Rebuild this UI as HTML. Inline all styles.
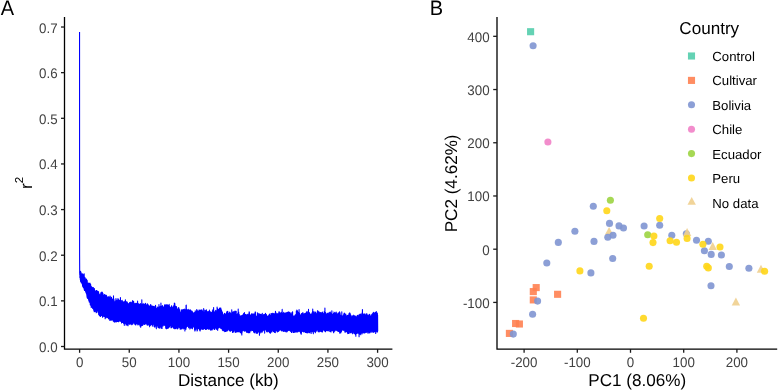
<!DOCTYPE html>
<html><head><meta charset="utf-8"><title>Figure</title>
<style>
html,body{margin:0;padding:0;background:#fff;}
body{width:778px;height:391px;overflow:hidden;}
svg{display:block;will-change:transform;}
text{font-family:"Liberation Sans",sans-serif;text-rendering:geometricPrecision;}
.tk{font-size:13.8px;fill:#414141;}
.lg{font-size:13.2px;fill:#000;}
.ti{font-size:17.1px;fill:#000;}
.pl{font-size:20px;fill:#000;}
</style></head><body>
<svg width="778" height="391" viewBox="0 0 778 391">
<rect width="778" height="391" fill="#fff"/>
<text transform="translate(0.8 15) scale(1 1.05)" class="pl">A</text>
<text transform="translate(429.7 15) scale(1 1.05)" class="pl">B</text>
<path d="M79.70 271.72 L80.07 271.04 L80.45 271.75 L80.82 272.50 L81.19 273.02 L81.56 274.47 L81.94 274.39 L82.31 274.32 L82.68 273.86 L83.05 274.07 L83.43 275.38 L83.80 276.06 L84.17 276.48 L84.54 277.09 L84.92 277.55 L85.29 278.30 L85.66 279.33 L86.04 279.81 L86.41 279.67 L86.78 280.31 L87.15 280.88 L87.53 282.60 L87.90 283.84 L88.27 283.99 L88.64 282.96 L89.02 283.14 L89.39 283.02 L89.76 283.07 L90.13 283.20 L90.51 285.14 L90.88 285.84 L91.25 286.04 L91.62 286.83 L92.00 287.80 L92.37 287.77 L92.74 287.81 L93.12 287.58 L93.49 286.69 L93.86 288.93 L94.23 288.61 L94.61 289.75 L94.98 290.87 L95.35 290.75 L95.72 290.99 L96.10 291.08 L96.47 291.27 L96.84 290.98 L97.21 291.99 L97.59 291.36 L97.96 292.13 L98.33 291.87 L98.71 291.90 L99.08 292.93 L99.45 294.19 L99.82 294.96 L100.20 294.61 L100.57 293.63 L100.94 293.03 L101.31 293.60 L101.69 292.49 L102.06 292.73 L102.43 292.35 L102.80 292.92 L103.18 293.24 L103.55 294.89 L103.92 296.33 L104.30 295.04 L104.67 293.86 L105.04 295.09 L105.41 295.01 L105.79 295.61 L106.16 294.27 L106.53 296.08 L106.90 296.36 L107.28 297.27 L107.65 296.87 L108.02 296.74 L108.39 297.35 L108.77 297.51 L109.14 297.19 L109.51 296.98 L109.89 296.17 L110.26 297.26 L110.63 298.10 L111.00 299.19 L111.38 298.81 L111.75 299.42 L112.12 300.01 L112.49 299.11 L112.87 299.18 L113.24 298.20 L113.61 297.78 L113.98 298.32 L114.36 299.35 L114.73 301.32 L115.10 301.41 L115.47 300.39 L115.85 299.45 L116.22 299.16 L116.59 299.90 L116.97 300.34 L117.34 300.16 L117.71 299.23 L118.08 298.83 L118.46 299.32 L118.83 300.42 L119.20 301.14 L119.57 299.90 L119.95 300.08 L120.32 299.85 L120.69 300.59 L121.06 301.34 L121.44 301.37 L121.81 301.16 L122.18 300.89 L122.56 301.12 L122.93 301.92 L123.30 302.10 L123.67 302.08 L124.05 302.50 L124.42 302.52 L124.79 301.85 L125.16 301.61 L125.54 302.17 L125.91 303.37 L126.28 303.01 L126.65 302.11 L127.03 301.77 L127.40 302.07 L127.77 302.95 L128.15 303.99 L128.52 304.26 L128.89 303.46 L129.26 303.25 L129.64 302.24 L130.01 302.51 L130.38 301.43 L130.75 302.00 L131.13 301.47 L131.50 302.85 L131.87 302.92 L132.24 302.45 L132.62 301.23 L132.99 301.62 L133.36 301.23 L133.74 302.32 L134.11 303.16 L134.48 303.96 L134.85 304.94 L135.23 304.04 L135.60 303.91 L135.97 303.40 L136.34 302.96 L136.72 302.74 L137.09 303.97 L137.46 303.64 L137.83 303.62 L138.21 303.40 L138.58 304.01 L138.95 303.93 L139.32 304.25 L139.70 304.36 L140.07 304.48 L140.44 303.85 L140.82 304.08 L141.19 303.87 L141.56 304.56 L141.93 304.05 L142.31 303.90 L142.68 303.30 L143.05 303.27 L143.42 303.44 L143.80 303.49 L144.17 303.00 L144.54 304.06 L144.91 303.89 L145.29 303.50 L145.66 303.23 L146.03 304.62 L146.41 305.93 L146.78 305.38 L147.15 305.38 L147.52 304.36 L147.90 304.87 L148.27 303.71 L148.64 304.92 L149.01 305.43 L149.39 305.96 L149.76 305.36 L150.13 304.32 L150.50 304.72 L150.88 304.45 L151.25 305.23 L151.62 306.40 L152.00 306.08 L152.37 306.01 L152.74 306.44 L153.11 306.77 L153.49 306.80 L153.86 305.78 L154.23 306.44 L154.60 306.24 L154.98 305.93 L155.35 305.63 L155.72 306.68 L156.09 307.65 L156.47 307.97 L156.84 308.31 L157.21 308.08 L157.58 307.11 L157.96 306.83 L158.33 306.81 L158.70 307.46 L159.08 308.04 L159.45 307.44 L159.82 307.25 L160.19 306.12 L160.57 305.74 L160.94 305.99 L161.31 306.68 L161.68 306.98 L162.06 306.68 L162.43 305.79 L162.80 307.09 L163.17 306.76 L163.55 306.40 L163.92 305.97 L164.29 304.52 L164.67 304.25 L165.04 304.72 L165.41 306.04 L165.78 306.57 L166.16 306.62 L166.53 305.72 L166.90 306.30 L167.27 305.26 L167.65 305.39 L168.02 305.60 L168.39 304.97 L168.76 305.03 L169.14 304.91 L169.51 306.55 L169.88 307.43 L170.26 307.22 L170.63 306.63 L171.00 306.35 L171.37 305.74 L171.75 305.50 L172.12 306.74 L172.49 307.04 L172.86 307.46 L173.24 307.88 L173.61 306.51 L173.98 304.38 L174.35 303.44 L174.73 303.99 L175.10 306.60 L175.47 306.43 L175.85 306.42 L176.22 306.95 L176.59 307.09 L176.96 307.25 L177.34 308.24 L177.71 309.87 L178.08 308.67 L178.45 307.56 L178.83 306.92 L179.20 308.68 L179.57 309.87 L179.94 310.57 L180.32 311.22 L180.69 312.10 L181.06 313.10 L181.43 312.91 L181.81 312.15 L182.18 310.45 L182.55 310.24 L182.93 309.49 L183.30 310.18 L183.67 309.88 L184.04 309.64 L184.42 309.64 L184.79 309.54 L185.16 310.97 L185.53 310.30 L185.91 309.04 L186.28 308.70 L186.65 309.91 L187.02 310.14 L187.40 310.05 L187.77 310.42 L188.14 309.49 L188.52 309.63 L188.89 310.15 L189.26 310.28 L189.63 310.37 L190.01 309.97 L190.38 309.94 L190.75 311.06 L191.12 312.01 L191.50 312.03 L191.87 312.00 L192.24 311.71 L192.61 312.46 L192.99 312.82 L193.36 312.87 L193.73 312.83 L194.11 313.02 L194.48 312.73 L194.85 312.74 L195.22 311.32 L195.60 311.30 L195.97 311.34 L196.34 311.08 L196.71 310.03 L197.09 310.24 L197.46 310.72 L197.83 311.24 L198.20 311.52 L198.58 311.61 L198.95 310.60 L199.32 310.94 L199.69 310.33 L200.07 310.93 L200.44 310.60 L200.81 310.16 L201.19 309.82 L201.56 311.11 L201.93 310.47 L202.30 311.21 L202.68 311.24 L203.05 311.16 L203.42 311.51 L203.79 311.91 L204.17 312.13 L204.54 311.53 L204.91 311.34 L205.28 311.50 L205.66 311.29 L206.03 311.25 L206.40 310.37 L206.78 311.47 L207.15 311.77 L207.52 311.73 L207.89 312.57 L208.27 312.32 L208.64 312.46 L209.01 311.99 L209.38 312.48 L209.76 312.83 L210.13 312.05 L210.50 313.00 L210.87 312.53 L211.25 312.86 L211.62 312.50 L211.99 311.63 L212.37 311.42 L212.74 310.61 L213.11 310.49 L213.48 310.68 L213.86 311.06 L214.23 311.75 L214.60 312.13 L214.97 311.28 L215.35 311.25 L215.72 310.23 L216.09 310.51 L216.46 311.02 L216.84 311.50 L217.21 310.69 L217.58 309.13 L217.96 309.21 L218.33 309.22 L218.70 309.15 L219.07 308.85 L219.45 309.07 L219.82 308.98 L220.19 308.54 L220.56 308.86 L220.94 308.71 L221.31 309.17 L221.68 310.55 L222.05 311.41 L222.43 312.04 L222.80 312.67 L223.17 313.35 L223.54 314.68 L223.92 315.23 L224.29 315.19 L224.66 313.73 L225.04 313.25 L225.41 314.01 L225.78 314.04 L226.15 313.12 L226.53 313.09 L226.90 311.51 L227.27 312.15 L227.64 312.39 L228.02 313.10 L228.39 313.10 L228.76 313.25 L229.13 313.03 L229.51 313.44 L229.88 313.99 L230.25 314.13 L230.63 313.83 L231.00 314.41 L231.37 313.28 L231.74 313.82 L232.12 313.11 L232.49 312.53 L232.86 312.05 L233.23 311.46 L233.61 312.57 L233.98 312.19 L234.35 310.94 L234.72 310.45 L235.10 311.38 L235.47 312.39 L235.84 313.82 L236.22 314.66 L236.59 314.97 L236.96 314.75 L237.33 314.08 L237.71 313.31 L238.08 312.53 L238.45 312.85 L238.82 312.67 L239.20 314.77 L239.57 315.22 L239.94 315.97 L240.31 314.98 L240.69 315.73 L241.06 315.31 L241.43 315.12 L241.81 315.40 L242.18 315.24 L242.55 315.06 L242.92 314.20 L243.30 313.02 L243.67 314.09 L244.04 314.14 L244.41 313.56 L244.79 313.41 L245.16 314.64 L245.53 315.23 L245.90 316.52 L246.28 316.57 L246.65 315.55 L247.02 315.70 L247.39 314.38 L247.77 315.28 L248.14 315.65 L248.51 314.77 L248.89 313.98 L249.26 312.48 L249.63 313.62 L250.00 314.29 L250.38 314.95 L250.75 314.49 L251.12 314.69 L251.49 313.86 L251.87 313.94 L252.24 313.51 L252.61 314.67 L252.98 314.28 L253.36 314.54 L253.73 313.84 L254.10 314.66 L254.48 313.74 L254.85 313.91 L255.22 312.80 L255.59 311.95 L255.97 313.96 L256.34 315.72 L256.71 316.00 L257.08 315.34 L257.46 314.02 L257.83 314.21 L258.20 314.95 L258.57 316.45 L258.95 316.06 L259.32 315.77 L259.69 314.96 L260.07 313.51 L260.44 314.27 L260.81 315.03 L261.18 314.83 L261.56 314.17 L261.93 314.10 L262.30 314.71 L262.67 315.76 L263.05 315.62 L263.42 314.77 L263.79 314.36 L264.16 313.54 L264.54 314.18 L264.91 313.93 L265.28 314.28 L265.65 314.81 L266.03 315.43 L266.40 314.49 L266.77 315.03 L267.15 315.68 L267.52 316.48 L267.89 316.41 L268.26 315.64 L268.64 315.44 L269.01 314.56 L269.38 314.62 L269.75 314.58 L270.13 315.03 L270.50 314.91 L270.87 314.49 L271.24 314.52 L271.62 313.65 L271.99 314.38 L272.36 314.83 L272.74 313.84 L273.11 313.46 L273.48 312.93 L273.85 313.10 L274.23 313.67 L274.60 313.07 L274.97 313.23 L275.34 312.72 L275.72 313.18 L276.09 313.29 L276.46 313.53 L276.83 313.72 L277.21 313.86 L277.58 313.76 L277.95 314.01 L278.33 313.67 L278.70 312.50 L279.07 312.10 L279.44 312.11 L279.82 312.86 L280.19 313.54 L280.56 314.13 L280.93 313.25 L281.31 313.32 L281.68 313.46 L282.05 312.55 L282.42 313.28 L282.80 312.65 L283.17 313.14 L283.54 312.95 L283.92 312.83 L284.29 313.36 L284.66 313.74 L285.03 313.35 L285.41 313.36 L285.78 314.05 L286.15 313.74 L286.52 314.09 L286.90 312.77 L287.27 312.42 L287.64 313.05 L288.01 312.62 L288.39 312.22 L288.76 312.35 L289.13 312.12 L289.50 311.88 L289.88 312.34 L290.25 312.82 L290.62 312.98 L291.00 314.12 L291.37 313.67 L291.74 312.44 L292.11 311.96 L292.49 312.64 L292.86 314.62 L293.23 315.25 L293.60 315.88 L293.98 316.20 L294.35 316.86 L294.72 315.98 L295.09 315.63 L295.47 314.85 L295.84 314.44 L296.21 312.89 L296.59 311.57 L296.96 310.43 L297.33 310.43 L297.70 311.65 L298.08 312.36 L298.45 312.39 L298.82 313.29 L299.19 312.34 L299.57 313.05 L299.94 312.86 L300.31 314.50 L300.68 314.53 L301.06 314.60 L301.43 314.50 L301.80 314.03 L302.18 313.46 L302.55 313.48 L302.92 312.54 L303.29 314.35 L303.67 313.94 L304.04 313.99 L304.41 313.13 L304.78 313.34 L305.16 313.44 L305.53 314.63 L305.90 313.50 L306.27 312.60 L306.65 311.48 L307.02 311.99 L307.39 312.57 L307.77 312.92 L308.14 312.33 L308.51 312.29 L308.88 312.52 L309.26 312.99 L309.63 313.55 L310.00 313.94 L310.37 313.97 L310.75 313.80 L311.12 313.76 L311.49 313.78 L311.86 313.58 L312.24 312.98 L312.61 312.56 L312.98 311.40 L313.35 312.01 L313.73 312.36 L314.10 312.38 L314.47 314.02 L314.85 313.92 L315.22 313.02 L315.59 313.42 L315.96 314.15 L316.34 314.30 L316.71 314.60 L317.08 312.18 L317.45 311.80 L317.83 310.77 L318.20 311.26 L318.57 311.53 L318.94 311.71 L319.32 311.78 L319.69 313.00 L320.06 313.45 L320.44 312.55 L320.81 312.05 L321.18 312.45 L321.55 312.61 L321.93 311.83 L322.30 312.76 L322.67 313.41 L323.04 314.09 L323.42 314.52 L323.79 313.69 L324.16 312.77 L324.53 312.79 L324.91 311.86 L325.28 312.44 L325.65 313.03 L326.03 313.82 L326.40 314.18 L326.77 313.92 L327.14 313.64 L327.52 313.44 L327.89 312.92 L328.26 313.90 L328.63 312.90 L329.01 313.74 L329.38 313.41 L329.75 312.97 L330.12 313.27 L330.50 312.70 L330.87 313.56 L331.24 313.17 L331.61 313.76 L331.99 313.19 L332.36 314.10 L332.73 314.11 L333.11 313.08 L333.48 312.88 L333.85 311.03 L334.22 311.83 L334.60 313.21 L334.97 313.18 L335.34 313.71 L335.71 312.36 L336.09 311.86 L336.46 312.31 L336.83 313.76 L337.20 314.67 L337.58 315.21 L337.95 314.10 L338.32 313.82 L338.70 312.96 L339.07 313.21 L339.44 313.31 L339.81 313.30 L340.19 314.33 L340.56 314.77 L340.93 315.78 L341.30 315.82 L341.68 315.30 L342.05 315.63 L342.42 315.66 L342.79 315.41 L343.17 315.12 L343.54 313.99 L343.91 314.19 L344.29 313.56 L344.66 313.12 L345.03 313.34 L345.40 314.67 L345.78 314.47 L346.15 315.44 L346.52 316.02 L346.89 315.16 L347.27 315.00 L347.64 314.99 L348.01 315.98 L348.38 315.47 L348.76 315.05 L349.13 313.80 L349.50 312.48 L349.88 313.36 L350.25 312.92 L350.62 313.77 L350.99 315.62 L351.37 316.19 L351.74 317.17 L352.11 316.20 L352.48 316.37 L352.86 316.30 L353.23 315.47 L353.60 314.55 L353.97 314.50 L354.35 316.45 L354.72 316.46 L355.09 316.38 L355.46 315.84 L355.84 316.74 L356.21 316.80 L356.58 316.42 L356.96 315.40 L357.33 315.73 L357.70 315.23 L358.07 315.83 L358.45 315.61 L358.82 316.22 L359.19 316.20 L359.56 314.64 L359.94 314.78 L360.31 314.38 L360.68 316.32 L361.05 315.61 L361.43 314.84 L361.80 314.42 L362.17 314.31 L362.55 313.72 L362.92 314.42 L363.29 314.07 L363.66 314.55 L364.04 313.48 L364.41 313.49 L364.78 313.80 L365.15 313.89 L365.53 314.81 L365.90 314.71 L366.27 314.80 L366.64 314.72 L367.02 314.05 L367.39 314.38 L367.76 314.89 L368.14 315.45 L368.51 316.05 L368.88 315.27 L369.25 314.45 L369.63 314.10 L370.00 315.55 L370.37 315.75 L370.74 316.62 L371.12 315.37 L371.49 315.48 L371.86 314.34 L372.23 313.56 L372.61 312.22 L372.98 313.11 L373.35 312.68 L373.73 313.11 L374.10 313.29 L374.47 313.65 L374.84 313.46 L375.22 313.35 L375.59 313.52 L375.96 313.35 L376.33 313.18 L376.71 312.33 L377.08 314.05 L377.45 314.22 L377.45 331.45 L377.08 331.00 L376.71 331.99 L376.33 331.54 L375.96 331.22 L375.59 330.38 L375.22 330.86 L374.84 330.63 L374.47 331.09 L374.10 331.57 L373.73 332.24 L373.35 332.17 L372.98 332.03 L372.61 331.41 L372.23 330.64 L371.86 331.15 L371.49 331.50 L371.12 331.31 L370.74 331.98 L370.37 332.48 L370.00 333.54 L369.63 332.33 L369.25 332.22 L368.88 331.91 L368.51 332.26 L368.14 332.90 L367.76 332.70 L367.39 331.45 L367.02 331.59 L366.64 332.27 L366.27 332.23 L365.90 332.11 L365.53 331.87 L365.15 331.44 L364.78 332.29 L364.41 332.19 L364.04 332.54 L363.66 332.34 L363.29 332.03 L362.92 332.40 L362.55 333.81 L362.17 334.68 L361.80 334.59 L361.43 333.58 L361.05 333.27 L360.68 333.55 L360.31 333.24 L359.94 333.04 L359.56 333.35 L359.19 333.42 L358.82 333.37 L358.45 332.96 L358.07 332.98 L357.70 332.65 L357.33 332.63 L356.96 332.88 L356.58 333.14 L356.21 333.17 L355.84 334.05 L355.46 334.15 L355.09 334.58 L354.72 334.12 L354.35 333.54 L353.97 332.75 L353.60 333.24 L353.23 332.62 L352.86 332.74 L352.48 333.25 L352.11 332.50 L351.74 332.88 L351.37 332.45 L350.99 332.94 L350.62 332.11 L350.25 331.60 L349.88 331.14 L349.50 332.24 L349.13 332.91 L348.76 333.42 L348.38 332.86 L348.01 333.08 L347.64 332.67 L347.27 332.29 L346.89 331.36 L346.52 330.93 L346.15 331.29 L345.78 331.95 L345.40 332.26 L345.03 332.09 L344.66 331.09 L344.29 330.36 L343.91 329.76 L343.54 330.30 L343.17 330.52 L342.79 330.24 L342.42 329.44 L342.05 328.53 L341.68 329.35 L341.30 331.58 L340.93 332.04 L340.56 332.33 L340.19 332.26 L339.81 332.37 L339.44 331.65 L339.07 331.61 L338.70 330.78 L338.32 331.33 L337.95 330.62 L337.58 331.59 L337.20 331.33 L336.83 331.05 L336.46 331.19 L336.09 330.15 L335.71 331.22 L335.34 329.78 L334.97 329.34 L334.60 329.97 L334.22 330.83 L333.85 332.21 L333.48 331.74 L333.11 331.45 L332.73 330.73 L332.36 330.30 L331.99 330.67 L331.61 331.15 L331.24 331.30 L330.87 331.10 L330.50 330.50 L330.12 330.59 L329.75 330.07 L329.38 330.55 L329.01 330.57 L328.63 330.29 L328.26 331.10 L327.89 330.18 L327.52 330.54 L327.14 329.73 L326.77 330.47 L326.40 330.82 L326.03 331.17 L325.65 331.40 L325.28 330.46 L324.91 330.71 L324.53 330.47 L324.16 330.19 L323.79 330.46 L323.42 330.17 L323.04 330.77 L322.67 331.17 L322.30 331.43 L321.93 331.47 L321.55 331.59 L321.18 330.89 L320.81 330.97 L320.44 331.09 L320.06 331.94 L319.69 331.85 L319.32 331.15 L318.94 331.31 L318.57 331.10 L318.20 331.51 L317.83 330.47 L317.45 330.11 L317.08 330.77 L316.71 330.62 L316.34 330.59 L315.96 330.57 L315.59 331.31 L315.22 331.95 L314.85 331.77 L314.47 330.98 L314.10 329.86 L313.73 330.33 L313.35 331.37 L312.98 331.48 L312.61 332.83 L312.24 332.10 L311.86 332.22 L311.49 332.54 L311.12 331.48 L310.75 331.85 L310.37 331.68 L310.00 332.33 L309.63 332.78 L309.26 332.05 L308.88 331.59 L308.51 330.90 L308.14 331.76 L307.77 332.46 L307.39 332.39 L307.02 331.82 L306.65 332.14 L306.27 332.71 L305.90 332.60 L305.53 331.80 L305.16 331.28 L304.78 330.95 L304.41 331.14 L304.04 331.24 L303.67 331.79 L303.29 331.56 L302.92 330.97 L302.55 330.48 L302.18 331.64 L301.80 332.74 L301.43 333.45 L301.06 334.53 L300.68 332.79 L300.31 332.10 L299.94 331.06 L299.57 331.96 L299.19 331.32 L298.82 331.18 L298.45 330.47 L298.08 330.85 L297.70 331.32 L297.33 331.05 L296.96 330.50 L296.59 331.20 L296.21 330.43 L295.84 331.19 L295.47 331.16 L295.09 331.49 L294.72 331.53 L294.35 331.58 L293.98 332.15 L293.60 332.58 L293.23 331.97 L292.86 331.25 L292.49 330.99 L292.11 330.81 L291.74 331.73 L291.37 332.25 L291.00 331.90 L290.62 331.12 L290.25 331.46 L289.88 330.75 L289.50 330.79 L289.13 330.29 L288.76 331.25 L288.39 330.72 L288.01 331.02 L287.64 331.75 L287.27 332.45 L286.90 331.86 L286.52 331.54 L286.15 331.75 L285.78 332.31 L285.41 331.88 L285.03 330.91 L284.66 330.83 L284.29 331.67 L283.92 331.06 L283.54 331.49 L283.17 331.02 L282.80 330.37 L282.42 330.17 L282.05 330.31 L281.68 330.46 L281.31 329.74 L280.93 329.41 L280.56 329.42 L280.19 329.12 L279.82 330.30 L279.44 329.76 L279.07 330.96 L278.70 331.57 L278.33 331.28 L277.95 331.68 L277.58 331.20 L277.21 331.81 L276.83 331.70 L276.46 331.33 L276.09 330.98 L275.72 331.19 L275.34 330.81 L274.97 331.40 L274.60 331.48 L274.23 331.56 L273.85 330.74 L273.48 330.97 L273.11 330.25 L272.74 331.05 L272.36 330.90 L271.99 331.19 L271.62 331.23 L271.24 332.16 L270.87 332.28 L270.50 332.36 L270.13 332.50 L269.75 331.96 L269.38 332.05 L269.01 330.59 L268.64 331.14 L268.26 330.43 L267.89 330.59 L267.52 330.60 L267.15 331.47 L266.77 330.87 L266.40 331.85 L266.03 331.31 L265.65 330.19 L265.28 329.86 L264.91 329.74 L264.54 330.33 L264.16 330.45 L263.79 330.57 L263.42 330.31 L263.05 330.43 L262.67 330.56 L262.30 330.69 L261.93 331.19 L261.56 331.61 L261.18 332.06 L260.81 332.04 L260.44 332.42 L260.07 332.63 L259.69 332.56 L259.32 332.56 L258.95 331.40 L258.57 331.71 L258.20 331.84 L257.83 332.27 L257.46 332.33 L257.08 332.98 L256.71 333.54 L256.34 333.75 L255.97 332.77 L255.59 332.86 L255.22 331.19 L254.85 331.62 L254.48 332.62 L254.10 333.46 L253.73 332.69 L253.36 332.37 L252.98 331.06 L252.61 330.92 L252.24 330.74 L251.87 330.47 L251.49 331.12 L251.12 331.87 L250.75 331.33 L250.38 331.50 L250.00 330.92 L249.63 331.02 L249.26 330.56 L248.89 331.04 L248.51 332.14 L248.14 331.88 L247.77 332.50 L247.39 331.77 L247.02 331.72 L246.65 332.03 L246.28 330.61 L245.90 330.60 L245.53 330.37 L245.16 330.14 L244.79 330.65 L244.41 331.36 L244.04 330.90 L243.67 330.26 L243.30 330.01 L242.92 331.48 L242.55 331.10 L242.18 331.78 L241.81 332.04 L241.43 332.12 L241.06 332.55 L240.69 332.28 L240.31 332.42 L239.94 331.16 L239.57 330.73 L239.20 331.12 L238.82 331.99 L238.45 332.24 L238.08 331.97 L237.71 331.19 L237.33 331.60 L236.96 331.60 L236.59 332.10 L236.22 332.22 L235.84 331.53 L235.47 331.57 L235.10 331.74 L234.72 331.21 L234.35 330.49 L233.98 331.07 L233.61 331.47 L233.23 331.87 L232.86 332.25 L232.49 331.79 L232.12 331.07 L231.74 330.07 L231.37 330.17 L231.00 330.56 L230.63 331.10 L230.25 331.37 L229.88 331.57 L229.51 331.57 L229.13 331.04 L228.76 330.59 L228.39 330.19 L228.02 329.59 L227.64 329.83 L227.27 329.75 L226.90 330.97 L226.53 331.37 L226.15 331.72 L225.78 331.61 L225.41 330.63 L225.04 330.57 L224.66 331.24 L224.29 331.28 L223.92 331.12 L223.54 330.40 L223.17 330.66 L222.80 329.84 L222.43 329.78 L222.05 329.38 L221.68 329.04 L221.31 329.16 L220.94 329.03 L220.56 328.93 L220.19 327.66 L219.82 327.57 L219.45 328.16 L219.07 328.07 L218.70 328.02 L218.33 328.75 L217.96 329.11 L217.58 330.18 L217.21 329.03 L216.84 329.04 L216.46 328.79 L216.09 328.15 L215.72 328.37 L215.35 329.15 L214.97 328.40 L214.60 329.14 L214.23 328.95 L213.86 328.72 L213.48 328.79 L213.11 328.67 L212.74 329.06 L212.37 328.93 L211.99 329.37 L211.62 328.87 L211.25 329.49 L210.87 329.45 L210.50 329.55 L210.13 329.23 L209.76 329.33 L209.38 329.48 L209.01 329.72 L208.64 329.51 L208.27 328.64 L207.89 328.09 L207.52 328.90 L207.15 328.50 L206.78 328.99 L206.40 329.16 L206.03 329.38 L205.66 329.13 L205.28 328.49 L204.91 328.03 L204.54 327.83 L204.17 327.57 L203.79 328.99 L203.42 329.71 L203.05 329.88 L202.68 329.18 L202.30 329.92 L201.93 329.38 L201.56 329.18 L201.19 329.28 L200.81 329.90 L200.44 330.49 L200.07 330.50 L199.69 329.88 L199.32 329.71 L198.95 329.33 L198.58 328.71 L198.20 328.11 L197.83 328.83 L197.46 330.05 L197.09 330.45 L196.71 328.88 L196.34 328.42 L195.97 328.21 L195.60 329.14 L195.22 330.59 L194.85 330.42 L194.48 328.92 L194.11 327.59 L193.73 326.16 L193.36 327.11 L192.99 327.23 L192.61 328.10 L192.24 329.10 L191.87 328.59 L191.50 328.66 L191.12 327.73 L190.75 327.79 L190.38 327.69 L190.01 327.12 L189.63 327.89 L189.26 327.61 L188.89 328.01 L188.52 326.85 L188.14 326.28 L187.77 325.36 L187.40 326.69 L187.02 326.50 L186.65 327.80 L186.28 327.74 L185.91 328.68 L185.53 327.99 L185.16 328.78 L184.79 328.73 L184.42 328.42 L184.04 328.00 L183.67 328.65 L183.30 328.42 L182.93 327.94 L182.55 327.85 L182.18 327.74 L181.81 327.99 L181.43 328.44 L181.06 328.40 L180.69 328.85 L180.32 328.44 L179.94 328.52 L179.57 326.73 L179.20 327.47 L178.83 326.69 L178.45 326.98 L178.08 327.39 L177.71 328.25 L177.34 328.18 L176.96 329.38 L176.59 328.44 L176.22 328.25 L175.85 328.02 L175.47 328.40 L175.10 329.00 L174.73 329.54 L174.35 328.72 L173.98 328.77 L173.61 328.73 L173.24 327.98 L172.86 327.45 L172.49 327.29 L172.12 327.21 L171.75 327.07 L171.37 327.25 L171.00 327.18 L170.63 325.96 L170.26 326.24 L169.88 326.04 L169.51 326.77 L169.14 327.07 L168.76 327.07 L168.39 327.82 L168.02 327.56 L167.65 327.69 L167.27 328.16 L166.90 328.75 L166.53 328.10 L166.16 328.62 L165.78 327.55 L165.41 326.19 L165.04 325.58 L164.67 325.06 L164.29 325.21 L163.92 324.68 L163.55 325.28 L163.17 325.01 L162.80 326.39 L162.43 325.52 L162.06 326.31 L161.68 327.13 L161.31 327.66 L160.94 326.51 L160.57 326.55 L160.19 326.93 L159.82 327.67 L159.45 328.07 L159.08 327.12 L158.70 327.11 L158.33 326.52 L157.96 327.06 L157.58 325.70 L157.21 325.92 L156.84 325.33 L156.47 325.69 L156.09 326.01 L155.72 326.56 L155.35 326.14 L154.98 326.48 L154.60 326.99 L154.23 326.65 L153.86 324.92 L153.49 324.31 L153.11 324.68 L152.74 324.75 L152.37 325.53 L152.00 324.88 L151.62 325.21 L151.25 324.91 L150.88 325.04 L150.50 324.99 L150.13 324.77 L149.76 324.62 L149.39 324.59 L149.01 324.87 L148.64 324.69 L148.27 324.80 L147.90 324.73 L147.52 324.74 L147.15 325.28 L146.78 324.88 L146.41 324.29 L146.03 323.60 L145.66 323.37 L145.29 323.92 L144.91 323.52 L144.54 324.05 L144.17 324.04 L143.80 323.81 L143.42 324.62 L143.05 325.18 L142.68 324.97 L142.31 325.22 L141.93 324.37 L141.56 325.96 L141.19 326.42 L140.82 327.47 L140.44 326.25 L140.07 325.50 L139.70 324.56 L139.32 324.99 L138.95 324.64 L138.58 324.89 L138.21 324.73 L137.83 324.50 L137.46 323.17 L137.09 323.25 L136.72 323.68 L136.34 323.57 L135.97 324.56 L135.60 324.89 L135.23 324.90 L134.85 323.98 L134.48 323.35 L134.11 322.72 L133.74 322.57 L133.36 323.41 L132.99 324.02 L132.62 323.77 L132.24 324.55 L131.87 324.54 L131.50 324.47 L131.13 323.47 L130.75 323.72 L130.38 323.07 L130.01 322.93 L129.64 323.01 L129.26 323.41 L128.89 323.90 L128.52 323.22 L128.15 323.88 L127.77 323.66 L127.40 323.44 L127.03 323.39 L126.65 323.80 L126.28 324.15 L125.91 324.36 L125.54 323.30 L125.16 323.53 L124.79 323.53 L124.42 324.16 L124.05 324.21 L123.67 324.00 L123.30 322.47 L122.93 321.78 L122.56 322.08 L122.18 321.98 L121.81 322.28 L121.44 321.98 L121.06 321.92 L120.69 322.05 L120.32 320.65 L119.95 320.69 L119.57 320.75 L119.20 321.87 L118.83 321.48 L118.46 320.85 L118.08 320.80 L117.71 321.38 L117.34 321.56 L116.97 321.21 L116.59 321.25 L116.22 321.36 L115.85 321.55 L115.47 321.47 L115.10 322.26 L114.73 321.15 L114.36 321.18 L113.98 320.22 L113.61 320.32 L113.24 320.16 L112.87 320.07 L112.49 320.85 L112.12 319.55 L111.75 319.82 L111.38 318.90 L111.00 319.92 L110.63 319.90 L110.26 319.41 L109.89 319.52 L109.51 319.36 L109.14 319.93 L108.77 319.35 L108.39 318.28 L108.02 318.40 L107.65 317.41 L107.28 317.78 L106.90 317.32 L106.53 317.38 L106.16 317.16 L105.79 316.88 L105.41 316.26 L105.04 316.49 L104.67 317.10 L104.30 316.20 L103.92 316.02 L103.55 316.19 L103.18 317.29 L102.80 317.90 L102.43 318.04 L102.06 316.95 L101.69 316.08 L101.31 315.20 L100.94 314.27 L100.57 315.81 L100.20 315.71 L99.82 315.72 L99.45 315.21 L99.08 314.24 L98.71 314.14 L98.33 312.88 L97.96 312.71 L97.59 311.62 L97.21 311.31 L96.84 312.06 L96.47 312.09 L96.10 311.81 L95.72 311.58 L95.35 311.67 L94.98 311.54 L94.61 311.70 L94.23 310.15 L93.86 310.07 L93.49 309.29 L93.12 308.80 L92.74 307.92 L92.37 307.23 L92.00 306.26 L91.62 305.75 L91.25 305.42 L90.88 306.29 L90.51 304.41 L90.13 304.04 L89.76 302.70 L89.39 302.12 L89.02 301.79 L88.64 300.73 L88.27 299.57 L87.90 298.90 L87.53 297.61 L87.15 296.83 L86.78 295.39 L86.41 294.17 L86.04 294.06 L85.66 292.96 L85.29 292.21 L84.92 290.57 L84.54 290.29 L84.17 289.69 L83.80 289.11 L83.43 288.02 L83.05 287.43 L82.68 286.39 L82.31 284.63 L81.94 283.43 L81.56 282.79 L81.19 282.37 L80.82 281.27 L80.45 279.86 L80.07 278.61 L79.70 277.67 Z" fill="#0000FF"/>
<path d="M79.55 32.0 L79.6 255 L79.7 273 L79.70 271.32 L79.82 274.58 L79.95 270.80 L80.07 277.77 L80.20 271.65 L80.32 279.57 L80.45 271.19 L80.57 281.22 L80.69 271.83 L80.82 281.62 L80.94 271.99 L81.07 279.07 L81.19 273.37 L81.31 282.65 L81.44 275.62 L81.56 279.46 L81.69 274.00 L81.81 279.87 L81.94 275.82 L82.06 283.50 L82.18 278.87 L82.31 284.28 L82.43 279.46 L82.56 286.09 L82.68 273.70 L82.81 282.35 L82.93 274.60 L83.05 281.75 L83.18 279.63 L83.30 287.45 L83.43 275.15 L83.55 283.01 L83.67 278.79 L83.80 285.17 L83.92 274.44 L84.05 284.13 L84.17 273.81 L84.30 289.84 L84.42 280.14 L84.54 290.37 L84.67 283.83 L84.79 290.36 L84.92 280.11 L85.04 286.76 L85.17 277.88 L85.29 285.97 L85.41 280.45 L85.54 288.71 L85.66 282.68 L85.79 290.97 L85.91 284.30 L86.04 287.62 L86.16 282.24 L86.28 291.82 L86.41 279.10 L86.53 290.51 L86.66 280.15 L86.78 288.76 L86.90 281.70 L87.03 297.00 L87.15 280.28 L87.28 297.63 L87.40 287.63 L87.53 297.37 L87.65 289.23 L87.77 298.42 L87.90 291.52 L88.02 294.83 L88.15 283.21 L88.27 294.89 L88.40 283.05 L88.52 297.55 L88.64 290.67 L88.77 299.96 L88.89 283.80 L89.02 292.09 L89.14 286.99 L89.26 302.04 L89.39 286.46 L89.51 298.88 L89.64 283.44 L89.76 300.96 L89.89 283.10 L90.01 298.79 L90.13 288.36 L90.26 304.74 L90.38 288.97 L90.51 300.12 L90.63 284.39 L90.76 304.79 L90.88 290.13 L91.00 305.65 L91.13 286.14 L91.25 307.50 L91.38 291.61 L91.50 299.64 L91.62 290.64 L91.75 306.43 L91.87 293.19 L92.00 300.33 L92.12 287.41 L92.25 306.46 L92.37 291.84 L92.49 308.19 L92.62 292.15 L92.74 300.03 L92.87 288.08 L92.99 300.87 L93.12 287.58 L93.24 308.71 L93.36 291.36 L93.49 307.69 L93.61 296.11 L93.74 310.12 L93.86 290.95 L93.99 307.80 L94.11 291.30 L94.23 311.77 L94.36 288.54 L94.48 301.71 L94.61 290.09 L94.73 303.84 L94.85 291.77 L94.98 311.53 L95.10 294.97 L95.23 307.58 L95.35 291.51 L95.48 309.43 L95.60 297.26 L95.72 309.12 L95.85 298.22 L95.97 310.50 L96.10 290.52 L96.22 312.65 L96.35 291.06 L96.47 306.16 L96.59 290.59 L96.72 311.40 L96.84 290.47 L96.97 312.29 L97.09 295.82 L97.21 306.26 L97.34 291.12 L97.46 309.36 L97.59 298.92 L97.71 301.19 L97.84 295.02 L97.96 309.85 L98.08 293.01 L98.21 309.91 L98.33 291.43 L98.46 310.68 L98.58 291.82 L98.71 314.62 L98.83 296.06 L98.95 311.65 L99.08 298.59 L99.20 314.06 L99.33 294.33 L99.45 315.77 L99.57 304.26 L99.70 314.48 L99.82 300.58 L99.95 311.16 L100.07 302.00 L100.20 312.98 L100.32 297.37 L100.44 316.51 L100.57 299.67 L100.69 315.86 L100.82 292.73 L100.94 304.69 L101.07 292.80 L101.19 315.53 L101.31 293.00 L101.44 315.33 L101.56 305.30 L101.69 314.40 L101.81 291.99 L101.94 307.65 L102.06 297.12 L102.18 315.54 L102.31 292.22 L102.43 312.87 L102.56 293.29 L102.68 316.44 L102.80 293.43 L102.93 305.79 L103.05 295.19 L103.18 308.25 L103.30 303.78 L103.43 308.17 L103.55 303.35 L103.67 315.94 L103.80 295.32 L103.92 308.50 L104.05 306.72 L104.17 316.53 L104.30 294.83 L104.42 308.14 L104.54 294.59 L104.67 314.18 L104.79 296.59 L104.92 311.25 L105.04 306.68 L105.16 318.77 L105.29 303.84 L105.41 313.68 L105.54 295.01 L105.66 313.47 L105.79 301.05 L105.91 316.39 L106.03 303.95 L106.16 317.75 L106.28 296.00 L106.41 308.52 L106.53 295.57 L106.66 310.98 L106.78 296.53 L106.90 314.93 L107.03 304.35 L107.15 310.44 L107.28 304.74 L107.40 317.48 L107.52 305.80 L107.65 316.93 L107.77 302.05 L107.90 315.97 L108.02 298.56 L108.15 308.16 L108.27 296.55 L108.39 318.73 L108.52 301.76 L108.64 318.60 L108.77 297.45 L108.89 317.74 L109.02 297.80 L109.14 310.06 L109.26 299.10 L109.39 313.12 L109.51 299.27 L109.64 313.49 L109.76 305.30 L109.89 320.49 L110.01 296.00 L110.13 319.79 L110.26 296.66 L110.38 315.28 L110.51 300.77 L110.63 316.06 L110.75 298.66 L110.88 313.76 L111.00 307.02 L111.13 320.21 L111.25 304.56 L111.38 319.43 L111.50 297.38 L111.62 315.18 L111.75 299.42 L111.87 319.84 L112.00 304.94 L112.12 319.28 L112.25 308.75 L112.37 317.14 L112.49 302.19 L112.62 317.22 L112.74 299.15 L112.87 319.94 L112.99 298.48 L113.11 316.30 L113.24 304.19 L113.36 321.15 L113.49 295.90 L113.61 308.24 L113.74 307.30 L113.86 318.23 L113.98 304.63 L114.11 321.63 L114.23 309.06 L114.36 320.70 L114.48 304.39 L114.61 310.83 L114.73 305.16 L114.85 322.24 L114.98 308.90 L115.10 315.64 L115.23 306.49 L115.35 321.59 L115.47 301.45 L115.60 321.48 L115.72 301.75 L115.85 316.07 L115.97 298.43 L116.10 318.29 L116.22 310.14 L116.34 319.53 L116.47 300.77 L116.59 321.85 L116.72 302.90 L116.84 319.81 L116.97 304.90 L117.09 321.56 L117.21 304.40 L117.34 311.55 L117.46 308.90 L117.59 312.86 L117.71 300.28 L117.84 321.57 L117.96 298.58 L118.08 316.56 L118.21 307.68 L118.33 316.96 L118.46 299.59 L118.58 321.68 L118.70 300.94 L118.83 319.79 L118.95 300.09 L119.08 315.90 L119.20 304.80 L119.33 320.53 L119.45 300.54 L119.57 313.33 L119.70 300.36 L119.82 320.97 L119.95 300.64 L120.07 319.00 L120.20 300.30 L120.32 321.18 L120.44 297.50 L120.57 320.39 L120.69 312.34 L120.82 318.94 L120.94 303.19 L121.06 316.58 L121.19 307.78 L121.31 316.25 L121.44 308.34 L121.56 323.04 L121.69 300.64 L121.81 313.50 L121.93 305.06 L122.06 321.60 L122.18 300.40 L122.31 321.20 L122.43 307.67 L122.56 322.57 L122.68 304.13 L122.80 314.15 L122.93 302.01 L123.05 322.41 L123.18 305.92 L123.30 317.87 L123.42 301.72 L123.55 318.02 L123.67 302.48 L123.80 323.44 L123.92 309.28 L124.05 322.10 L124.17 312.16 L124.29 325.35 L124.42 303.94 L124.54 314.29 L124.67 301.33 L124.79 323.56 L124.92 304.88 L125.04 320.81 L125.16 301.47 L125.29 323.05 L125.41 299.71 L125.54 320.66 L125.66 305.89 L125.79 321.78 L125.91 308.24 L126.03 324.92 L126.16 312.66 L126.28 319.49 L126.41 301.84 L126.53 324.55 L126.65 302.49 L126.78 323.85 L126.90 301.83 L127.03 325.09 L127.15 304.61 L127.28 319.27 L127.40 302.97 L127.52 323.90 L127.65 303.62 L127.77 319.77 L127.90 303.18 L128.02 325.68 L128.15 305.17 L128.27 324.27 L128.39 303.72 L128.52 323.02 L128.64 306.03 L128.77 323.81 L128.89 303.89 L129.01 313.56 L129.14 305.08 L129.26 318.34 L129.39 308.25 L129.51 319.06 L129.64 302.46 L129.76 324.37 L129.88 312.32 L130.01 314.27 L130.13 303.32 L130.26 323.40 L130.38 308.55 L130.51 320.83 L130.63 303.29 L130.75 323.84 L130.88 302.25 L131.00 323.59 L131.13 311.37 L131.25 312.94 L131.37 313.71 L131.50 323.54 L131.62 303.81 L131.75 324.71 L131.87 309.58 L132.00 321.22 L132.12 302.15 L132.24 322.53 L132.37 302.98 L132.49 319.55 L132.62 300.65 L132.74 324.08 L132.87 306.85 L132.99 323.81 L133.11 303.10 L133.24 322.73 L133.36 304.59 L133.49 312.92 L133.61 301.21 L133.74 312.11 L133.86 304.65 L133.98 320.40 L134.11 303.22 L134.23 317.86 L134.36 303.35 L134.48 323.16 L134.60 304.69 L134.73 321.62 L134.85 310.53 L134.98 324.50 L135.10 308.52 L135.23 319.84 L135.35 304.30 L135.47 322.28 L135.60 303.34 L135.72 324.90 L135.85 305.93 L135.97 322.48 L136.10 312.32 L136.22 323.56 L136.34 303.38 L136.47 318.45 L136.59 312.57 L136.72 317.68 L136.84 307.95 L136.96 324.01 L137.09 304.49 L137.21 323.86 L137.34 304.62 L137.46 323.50 L137.59 301.11 L137.71 323.80 L137.83 307.60 L137.96 324.93 L138.08 303.37 L138.21 318.18 L138.33 306.51 L138.46 323.41 L138.58 307.19 L138.70 322.02 L138.83 314.66 L138.95 313.46 L139.08 304.17 L139.20 320.61 L139.32 304.30 L139.45 316.85 L139.57 306.83 L139.70 319.98 L139.82 313.50 L139.95 325.99 L140.07 304.03 L140.19 317.34 L140.32 307.03 L140.44 323.61 L140.57 303.60 L140.69 327.14 L140.82 305.36 L140.94 324.86 L141.06 307.88 L141.19 325.60 L141.31 307.27 L141.44 323.38 L141.56 309.95 L141.68 322.24 L141.81 299.87 L141.93 320.97 L142.06 303.71 L142.18 325.38 L142.31 305.43 L142.43 324.60 L142.55 313.10 L142.68 325.28 L142.80 304.97 L142.93 323.73 L143.05 307.19 L143.18 320.06 L143.30 308.94 L143.42 323.97 L143.55 304.20 L143.67 313.79 L143.80 310.65 L143.92 321.47 L144.05 304.90 L144.17 321.08 L144.29 306.72 L144.42 324.55 L144.54 306.28 L144.67 315.41 L144.79 311.14 L144.91 313.45 L145.04 307.40 L145.16 317.25 L145.29 311.21 L145.41 324.02 L145.54 303.39 L145.66 322.08 L145.78 314.39 L145.91 320.47 L146.03 304.13 L146.16 319.26 L146.28 304.76 L146.41 322.93 L146.53 305.62 L146.65 321.51 L146.78 305.89 L146.90 322.82 L147.03 306.07 L147.15 324.97 L147.27 305.69 L147.40 323.39 L147.52 303.76 L147.65 325.12 L147.77 309.48 L147.90 322.89 L148.02 310.37 L148.14 322.97 L148.27 313.54 L148.39 316.10 L148.52 308.93 L148.64 316.52 L148.77 306.15 L148.89 325.04 L149.01 313.48 L149.14 325.20 L149.26 309.57 L149.39 324.94 L149.51 310.94 L149.63 326.71 L149.76 308.24 L149.88 324.76 L150.01 311.69 L150.13 325.08 L150.26 306.02 L150.38 325.57 L150.50 306.40 L150.63 313.82 L150.75 304.63 L150.88 314.98 L151.00 306.62 L151.13 322.40 L151.25 308.23 L151.37 321.68 L151.50 306.43 L151.62 322.04 L151.75 305.94 L151.87 324.41 L152.00 306.34 L152.12 321.94 L152.24 312.33 L152.37 326.11 L152.49 305.93 L152.62 323.88 L152.74 309.11 L152.86 322.79 L152.99 311.34 L153.11 315.28 L153.24 306.78 L153.36 317.50 L153.49 306.21 L153.61 323.98 L153.73 311.57 L153.86 325.34 L153.98 312.14 L154.11 326.49 L154.23 307.17 L154.36 325.31 L154.48 314.19 L154.60 325.55 L154.73 314.62 L154.85 327.25 L154.98 313.87 L155.10 319.61 L155.22 314.85 L155.35 320.78 L155.47 305.25 L155.60 325.52 L155.72 306.17 L155.85 324.20 L155.97 307.62 L156.09 326.16 L156.22 312.12 L156.34 328.68 L156.47 317.39 L156.59 326.03 L156.72 310.82 L156.84 324.92 L156.96 312.62 L157.09 322.30 L157.21 308.84 L157.34 320.90 L157.46 308.47 L157.58 325.43 L157.71 306.97 L157.83 326.83 L157.96 317.53 L158.08 327.55 L158.21 308.46 L158.33 319.51 L158.45 309.68 L158.58 317.80 L158.70 310.16 L158.83 327.84 L158.95 304.59 L159.08 325.80 L159.20 309.76 L159.32 322.71 L159.45 310.41 L159.57 319.33 L159.70 306.89 L159.82 328.27 L159.95 315.23 L160.07 324.17 L160.19 306.75 L160.32 324.25 L160.44 307.20 L160.57 320.66 L160.69 310.29 L160.81 326.31 L160.94 303.09 L161.06 327.47 L161.19 314.21 L161.31 328.11 L161.44 306.94 L161.56 322.51 L161.68 308.11 L161.81 324.56 L161.93 306.09 L162.06 328.50 L162.18 306.12 L162.31 324.48 L162.43 305.50 L162.55 325.51 L162.68 311.19 L162.80 319.46 L162.93 312.19 L163.05 326.01 L163.17 314.83 L163.30 323.49 L163.42 312.74 L163.55 318.04 L163.67 313.08 L163.80 314.51 L163.92 312.62 L164.04 315.27 L164.17 311.68 L164.29 325.50 L164.42 305.82 L164.54 322.32 L164.67 312.04 L164.79 323.36 L164.91 311.50 L165.04 314.46 L165.16 304.76 L165.29 323.81 L165.41 306.01 L165.53 320.40 L165.66 311.11 L165.78 327.94 L165.91 307.26 L166.03 328.54 L166.16 304.77 L166.28 322.47 L166.40 318.29 L166.53 328.68 L166.65 305.29 L166.78 322.50 L166.90 306.20 L167.03 317.36 L167.15 304.60 L167.27 322.91 L167.40 307.39 L167.52 327.69 L167.65 307.34 L167.77 328.57 L167.90 314.80 L168.02 326.44 L168.14 305.29 L168.27 327.98 L168.39 310.25 L168.52 317.57 L168.64 316.01 L168.76 327.37 L168.89 312.32 L169.01 327.13 L169.14 304.31 L169.26 319.45 L169.39 306.07 L169.51 326.63 L169.63 308.10 L169.76 319.27 L169.88 312.52 L170.01 321.06 L170.13 316.10 L170.26 323.27 L170.38 308.62 L170.50 321.93 L170.63 316.77 L170.75 325.52 L170.88 307.87 L171.00 327.77 L171.12 307.00 L171.25 318.23 L171.37 309.28 L171.50 327.20 L171.62 305.69 L171.75 327.61 L171.87 306.55 L171.99 324.97 L172.12 306.89 L172.24 323.45 L172.37 312.51 L172.49 319.00 L172.62 310.50 L172.74 316.68 L172.86 312.20 L172.99 322.72 L173.11 312.39 L173.24 325.96 L173.36 307.64 L173.48 328.03 L173.61 306.09 L173.73 316.66 L173.86 305.45 L173.98 320.62 L174.11 306.37 L174.23 327.98 L174.35 302.97 L174.48 325.05 L174.60 305.50 L174.73 326.23 L174.85 303.46 L174.98 326.63 L175.10 306.01 L175.22 328.79 L175.35 311.07 L175.47 317.04 L175.60 316.01 L175.72 328.35 L175.85 306.33 L175.97 328.36 L176.09 308.78 L176.22 327.26 L176.34 306.49 L176.47 316.72 L176.59 317.74 L176.71 320.24 L176.84 313.70 L176.96 323.70 L177.09 310.85 L177.21 325.68 L177.34 309.65 L177.46 328.75 L177.58 310.74 L177.71 328.83 L177.83 314.45 L177.96 328.61 L178.08 308.51 L178.21 324.06 L178.33 307.76 L178.45 326.07 L178.58 308.70 L178.70 322.54 L178.83 307.79 L178.95 327.26 L179.07 309.17 L179.20 319.42 L179.32 310.80 L179.45 324.16 L179.57 309.83 L179.70 327.75 L179.82 318.90 L179.94 327.41 L180.07 316.89 L180.19 329.19 L180.32 316.50 L180.44 324.10 L180.57 314.98 L180.69 328.83 L180.81 312.20 L180.94 321.74 L181.06 318.73 L181.19 328.84 L181.31 309.78 L181.43 328.93 L181.56 312.37 L181.68 323.17 L181.81 314.58 L181.93 326.18 L182.06 316.51 L182.18 328.29 L182.30 309.81 L182.43 323.54 L182.55 316.42 L182.68 325.32 L182.80 315.17 L182.93 319.72 L183.05 313.81 L183.17 329.00 L183.30 309.58 L183.42 324.08 L183.55 314.77 L183.67 327.80 L183.80 314.87 L183.92 326.96 L184.04 319.45 L184.17 319.09 L184.29 308.93 L184.42 328.47 L184.54 317.92 L184.66 323.32 L184.79 309.80 L184.91 331.07 L185.04 314.80 L185.16 323.77 L185.29 310.71 L185.41 327.68 L185.53 310.66 L185.66 325.51 L185.78 309.32 L185.91 329.22 L186.03 305.41 L186.16 326.92 L186.28 305.15 L186.40 322.32 L186.53 315.15 L186.65 326.44 L186.78 318.06 L186.90 322.09 L187.02 309.82 L187.15 322.16 L187.27 309.53 L187.40 326.36 L187.52 310.66 L187.65 319.22 L187.77 311.57 L187.89 318.30 L188.02 310.99 L188.14 317.48 L188.27 313.77 L188.39 322.48 L188.52 319.01 L188.64 327.68 L188.76 309.25 L188.89 326.57 L189.01 311.74 L189.14 322.63 L189.26 310.34 L189.38 322.55 L189.51 315.50 L189.63 325.03 L189.76 317.29 L189.88 329.06 L190.01 310.21 L190.13 326.68 L190.25 309.83 L190.38 328.20 L190.50 309.98 L190.63 323.68 L190.75 312.19 L190.88 323.94 L191.00 315.91 L191.12 326.83 L191.25 311.42 L191.37 327.24 L191.50 314.09 L191.62 324.16 L191.75 310.82 L191.87 328.05 L191.99 318.17 L192.12 327.07 L192.24 311.25 L192.37 328.65 L192.49 312.69 L192.61 324.82 L192.74 312.33 L192.86 323.84 L192.99 312.52 L193.11 321.94 L193.24 316.42 L193.36 324.08 L193.48 316.38 L193.61 326.78 L193.73 317.12 L193.86 327.22 L193.98 314.10 L194.11 322.99 L194.23 315.38 L194.35 326.78 L194.48 312.46 L194.60 329.44 L194.73 314.48 L194.85 331.01 L194.97 312.60 L195.10 330.85 L195.22 310.73 L195.35 323.59 L195.47 312.56 L195.60 323.23 L195.72 314.82 L195.84 329.19 L195.97 315.06 L196.09 324.81 L196.22 316.75 L196.34 319.44 L196.47 312.75 L196.59 326.63 L196.71 309.46 L196.84 327.17 L196.96 310.63 L197.09 330.98 L197.21 310.00 L197.33 330.47 L197.46 311.86 L197.58 327.36 L197.71 319.76 L197.83 325.64 L197.96 313.78 L198.08 323.20 L198.20 319.64 L198.33 327.74 L198.45 311.36 L198.58 328.76 L198.70 313.42 L198.83 326.27 L198.95 310.01 L199.07 324.24 L199.20 310.19 L199.32 325.05 L199.45 310.14 L199.57 329.82 L199.69 317.69 L199.82 330.59 L199.94 311.10 L200.07 330.94 L200.19 315.40 L200.32 324.88 L200.44 310.28 L200.56 328.05 L200.69 310.10 L200.81 327.74 L200.94 317.29 L201.06 321.87 L201.19 309.94 L201.31 322.98 L201.43 320.62 L201.56 326.64 L201.68 319.76 L201.81 326.63 L201.93 309.88 L202.06 329.26 L202.18 310.46 L202.30 327.54 L202.43 310.72 L202.55 322.82 L202.68 319.45 L202.80 323.65 L202.92 320.72 L203.05 324.65 L203.17 317.71 L203.30 328.90 L203.42 314.81 L203.55 320.11 L203.67 308.67 L203.79 320.33 L203.92 309.43 L204.04 328.76 L204.17 312.91 L204.29 328.19 L204.42 313.03 L204.54 328.31 L204.66 313.26 L204.79 322.10 L204.91 313.11 L205.04 328.59 L205.16 310.21 L205.28 327.58 L205.41 317.32 L205.53 329.37 L205.66 311.74 L205.78 329.09 L205.91 312.55 L206.03 328.75 L206.15 310.85 L206.28 329.07 L206.40 309.91 L206.53 329.23 L206.65 310.94 L206.78 326.54 L206.90 311.52 L207.02 328.05 L207.15 311.93 L207.27 328.54 L207.40 312.80 L207.52 322.75 L207.64 311.84 L207.77 321.11 L207.89 318.48 L208.02 328.20 L208.14 313.12 L208.27 329.21 L208.39 311.64 L208.51 325.54 L208.64 311.86 L208.76 322.36 L208.89 319.70 L209.01 326.48 L209.14 311.68 L209.26 327.89 L209.38 310.01 L209.51 320.84 L209.63 317.67 L209.76 327.87 L209.88 312.21 L210.01 328.77 L210.13 311.81 L210.25 329.56 L210.38 315.66 L210.50 326.97 L210.63 312.09 L210.75 330.14 L210.87 313.91 L211.00 324.43 L211.12 316.30 L211.25 329.51 L211.37 312.96 L211.50 322.24 L211.62 312.58 L211.74 324.27 L211.87 317.43 L211.99 329.96 L212.12 313.45 L212.24 325.03 L212.37 310.82 L212.49 323.56 L212.61 312.88 L212.74 329.01 L212.86 309.70 L212.99 329.11 L213.11 310.63 L213.23 319.72 L213.36 309.94 L213.48 327.75 L213.61 307.53 L213.73 322.21 L213.86 311.20 L213.98 321.11 L214.10 312.13 L214.23 325.04 L214.35 314.25 L214.48 329.51 L214.60 320.48 L214.73 323.22 L214.85 313.96 L214.97 322.57 L215.10 312.27 L215.22 326.01 L215.35 310.79 L215.47 325.68 L215.59 313.55 L215.72 322.11 L215.84 310.23 L215.97 326.51 L216.09 317.35 L216.22 329.12 L216.34 316.43 L216.46 320.16 L216.59 314.28 L216.71 325.25 L216.84 317.56 L216.96 329.11 L217.09 307.06 L217.21 322.74 L217.33 319.48 L217.46 320.42 L217.58 319.63 L217.71 330.36 L217.83 308.73 L217.96 328.32 L218.08 315.00 L218.20 318.14 L218.33 319.11 L218.45 327.22 L218.58 312.14 L218.70 321.04 L218.82 309.50 L218.95 324.11 L219.07 312.48 L219.20 321.35 L219.32 309.97 L219.45 321.02 L219.57 308.07 L219.69 326.86 L219.82 311.10 L219.94 318.79 L220.07 311.57 L220.19 327.82 L220.32 308.14 L220.44 327.69 L220.56 309.81 L220.69 324.97 L220.81 308.09 L220.94 319.82 L221.06 320.02 L221.18 327.80 L221.31 309.93 L221.43 324.39 L221.56 310.51 L221.68 326.98 L221.81 316.22 L221.93 325.45 L222.05 319.95 L222.18 328.88 L222.30 311.99 L222.43 330.30 L222.55 316.03 L222.68 329.69 L222.80 315.22 L222.92 329.16 L223.05 315.18 L223.17 330.64 L223.30 318.52 L223.42 328.87 L223.54 314.97 L223.67 330.60 L223.79 317.52 L223.92 326.17 L224.04 314.32 L224.17 330.17 L224.29 318.96 L224.41 329.97 L224.54 313.23 L224.66 331.60 L224.79 319.49 L224.91 331.24 L225.04 317.49 L225.16 331.44 L225.28 317.34 L225.41 329.74 L225.53 314.71 L225.66 331.37 L225.78 316.49 L225.91 328.55 L226.03 313.60 L226.15 330.59 L226.28 319.87 L226.40 330.91 L226.53 312.58 L226.65 326.92 L226.77 315.21 L226.90 330.62 L227.02 311.54 L227.15 329.21 L227.27 311.55 L227.40 330.83 L227.52 312.66 L227.64 325.50 L227.77 311.19 L227.89 330.03 L228.02 313.97 L228.14 327.96 L228.27 315.16 L228.39 326.22 L228.51 317.79 L228.64 325.96 L228.76 316.95 L228.89 327.74 L229.01 314.92 L229.13 328.12 L229.26 312.52 L229.38 324.79 L229.51 318.13 L229.63 329.21 L229.76 311.93 L229.88 330.44 L230.00 322.16 L230.13 322.86 L230.25 319.43 L230.38 328.51 L230.50 312.94 L230.63 331.28 L230.75 321.18 L230.87 330.74 L231.00 313.87 L231.12 330.46 L231.25 316.00 L231.37 330.51 L231.49 316.12 L231.62 329.79 L231.74 309.71 L231.87 330.22 L231.99 315.84 L232.12 328.40 L232.24 312.25 L232.36 324.11 L232.49 311.94 L232.61 332.44 L232.74 318.87 L232.86 330.75 L232.99 314.19 L233.11 324.32 L233.23 312.62 L233.36 321.37 L233.48 314.00 L233.61 331.95 L233.73 311.65 L233.86 322.99 L233.98 318.03 L234.10 322.40 L234.23 314.09 L234.35 324.20 L234.48 320.19 L234.60 328.13 L234.72 316.23 L234.85 326.24 L234.97 319.97 L235.10 332.10 L235.22 311.14 L235.35 331.53 L235.47 318.96 L235.59 332.33 L235.72 312.48 L235.84 325.22 L235.97 317.62 L236.09 331.95 L236.22 311.41 L236.34 329.47 L236.46 314.82 L236.59 330.85 L236.71 319.23 L236.84 329.93 L236.96 316.89 L237.08 332.03 L237.21 314.31 L237.33 328.59 L237.46 320.91 L237.58 331.40 L237.71 319.79 L237.83 326.44 L237.95 312.97 L238.08 329.50 L238.20 308.97 L238.33 331.30 L238.45 312.25 L238.58 321.80 L238.70 311.99 L238.82 329.17 L238.95 314.05 L239.07 331.90 L239.20 314.35 L239.32 331.18 L239.44 321.64 L239.57 325.89 L239.69 320.07 L239.82 329.73 L239.94 322.97 L240.07 323.54 L240.19 322.76 L240.31 332.34 L240.44 320.55 L240.56 325.42 L240.69 316.58 L240.81 330.84 L240.94 316.27 L241.06 333.11 L241.18 320.30 L241.31 327.37 L241.43 316.48 L241.56 332.51 L241.68 316.18 L241.81 334.88 L241.93 320.43 L242.05 332.51 L242.18 315.53 L242.30 329.39 L242.43 315.22 L242.55 325.22 L242.67 320.85 L242.80 326.63 L242.92 320.39 L243.05 328.03 L243.17 314.87 L243.30 330.15 L243.42 319.85 L243.54 325.94 L243.67 313.54 L243.79 330.47 L243.92 313.41 L244.04 327.86 L244.17 315.14 L244.29 331.28 L244.41 312.48 L244.54 325.36 L244.66 313.92 L244.79 327.23 L244.91 314.66 L245.03 330.64 L245.16 322.63 L245.28 327.98 L245.41 315.14 L245.53 330.95 L245.66 315.64 L245.78 322.96 L245.90 314.66 L246.03 331.01 L246.15 316.34 L246.28 330.74 L246.40 315.86 L246.53 332.14 L246.65 315.01 L246.77 326.48 L246.90 323.11 L247.02 332.31 L247.15 315.56 L247.27 323.26 L247.39 314.37 L247.52 326.05 L247.64 318.32 L247.77 331.63 L247.89 315.25 L248.02 332.56 L248.14 318.76 L248.26 332.75 L248.39 316.89 L248.51 332.68 L248.64 314.16 L248.76 332.54 L248.89 313.43 L249.01 321.41 L249.13 311.83 L249.26 321.10 L249.38 312.13 L249.51 331.26 L249.63 321.37 L249.76 332.81 L249.88 321.11 L250.00 328.13 L250.13 322.29 L250.25 330.67 L250.38 322.63 L250.50 325.54 L250.62 319.50 L250.75 326.95 L250.87 321.40 L251.00 330.12 L251.12 314.72 L251.25 328.42 L251.37 314.04 L251.49 325.70 L251.62 316.91 L251.74 323.17 L251.87 313.78 L251.99 327.89 L252.12 317.54 L252.24 324.56 L252.36 321.86 L252.49 330.37 L252.61 321.13 L252.74 328.94 L252.86 314.27 L252.98 328.04 L253.11 313.70 L253.23 329.61 L253.36 320.82 L253.48 328.64 L253.61 321.06 L253.73 331.67 L253.85 323.82 L253.98 325.86 L254.10 314.08 L254.23 327.25 L254.35 316.44 L254.48 332.67 L254.60 319.22 L254.72 329.27 L254.85 313.66 L254.97 331.57 L255.10 311.94 L255.22 329.61 L255.34 316.29 L255.47 322.09 L255.59 312.01 L255.72 325.59 L255.84 319.07 L255.97 333.02 L256.09 316.58 L256.21 330.62 L256.34 320.27 L256.46 329.00 L256.59 317.19 L256.71 327.69 L256.84 317.32 L256.96 332.71 L257.08 318.68 L257.21 333.38 L257.33 316.36 L257.46 328.72 L257.58 312.83 L257.71 322.73 L257.83 322.31 L257.95 332.52 L258.08 314.68 L258.20 331.56 L258.33 315.54 L258.45 327.89 L258.57 316.62 L258.70 329.97 L258.82 313.58 L258.95 331.59 L259.07 315.65 L259.20 327.23 L259.32 321.77 L259.44 335.16 L259.57 320.90 L259.69 324.73 L259.82 313.97 L259.94 333.31 L260.07 314.28 L260.19 327.00 L260.31 314.87 L260.44 329.54 L260.56 315.48 L260.69 332.01 L260.81 314.46 L260.93 331.12 L261.06 319.81 L261.18 327.79 L261.31 318.48 L261.43 331.17 L261.56 319.10 L261.68 324.05 L261.80 314.46 L261.93 332.61 L262.05 314.00 L262.18 323.97 L262.30 313.21 L262.43 327.76 L262.55 317.16 L262.67 331.16 L262.80 315.63 L262.92 330.82 L263.05 315.70 L263.17 328.02 L263.29 316.72 L263.42 330.31 L263.54 315.16 L263.67 328.93 L263.79 314.44 L263.92 324.29 L264.04 317.01 L264.16 321.87 L264.29 319.20 L264.41 321.44 L264.54 315.61 L264.66 333.12 L264.79 314.79 L264.91 326.20 L265.03 314.56 L265.16 325.23 L265.28 314.34 L265.41 324.65 L265.53 313.40 L265.65 323.75 L265.78 314.89 L265.90 329.77 L266.03 315.02 L266.15 329.83 L266.28 314.64 L266.40 330.44 L266.52 314.72 L266.65 331.44 L266.77 316.53 L266.90 324.26 L267.02 316.14 L267.15 332.07 L267.27 322.18 L267.39 331.37 L267.52 319.08 L267.64 325.73 L267.77 317.87 L267.89 328.38 L268.02 316.02 L268.14 331.01 L268.26 318.59 L268.39 330.56 L268.51 319.32 L268.64 331.46 L268.76 323.12 L268.88 328.22 L269.01 314.90 L269.13 331.68 L269.26 320.72 L269.38 332.32 L269.51 314.16 L269.63 332.41 L269.75 322.93 L269.88 331.86 L270.00 317.22 L270.13 333.03 L270.25 324.68 L270.38 333.24 L270.50 317.58 L270.62 332.53 L270.75 323.66 L270.87 330.90 L271.00 313.65 L271.12 322.90 L271.24 315.02 L271.37 330.76 L271.49 320.39 L271.62 331.69 L271.74 313.61 L271.87 331.96 L271.99 314.24 L272.11 325.86 L272.24 316.36 L272.36 325.45 L272.49 313.86 L272.61 322.66 L272.74 313.24 L272.86 325.81 L272.98 313.23 L273.11 325.07 L273.23 318.24 L273.36 331.44 L273.48 316.71 L273.60 325.28 L273.73 318.65 L273.85 327.00 L273.98 314.98 L274.10 328.09 L274.23 316.50 L274.35 332.35 L274.47 319.83 L274.60 331.23 L274.72 315.22 L274.85 327.12 L274.97 319.95 L275.10 330.92 L275.22 312.99 L275.34 332.58 L275.47 311.41 L275.59 324.01 L275.72 315.28 L275.84 321.91 L275.97 319.69 L276.09 323.26 L276.21 313.07 L276.34 322.84 L276.46 317.62 L276.59 322.17 L276.71 316.90 L276.83 328.80 L276.96 315.44 L277.08 328.49 L277.21 320.92 L277.33 332.00 L277.46 321.39 L277.58 331.03 L277.70 313.52 L277.83 328.40 L277.95 320.74 L278.08 331.49 L278.20 316.45 L278.33 331.36 L278.45 322.14 L278.57 330.26 L278.70 317.41 L278.82 324.55 L278.95 311.83 L279.07 330.70 L279.19 311.74 L279.32 322.63 L279.44 314.38 L279.57 325.82 L279.69 314.90 L279.82 320.95 L279.94 315.32 L280.06 330.06 L280.19 316.36 L280.31 329.49 L280.44 313.10 L280.56 324.43 L280.69 317.37 L280.81 328.44 L280.93 312.79 L281.06 330.02 L281.18 312.99 L281.31 330.19 L281.43 316.40 L281.55 330.38 L281.68 312.14 L281.80 330.90 L281.93 316.32 L282.05 328.22 L282.18 309.38 L282.30 329.07 L282.42 321.72 L282.55 330.32 L282.67 318.78 L282.80 323.32 L282.92 314.16 L283.05 330.97 L283.17 313.66 L283.29 329.74 L283.42 314.67 L283.54 324.98 L283.67 312.28 L283.79 331.43 L283.92 315.63 L284.04 331.15 L284.16 314.72 L284.29 327.49 L284.41 315.90 L284.54 330.94 L284.66 313.22 L284.78 330.27 L284.91 313.22 L285.03 328.62 L285.16 316.57 L285.28 328.65 L285.41 313.00 L285.53 331.07 L285.65 313.08 L285.78 326.61 L285.90 315.08 L286.03 328.13 L286.15 318.66 L286.28 331.93 L286.40 313.82 L286.52 326.94 L286.65 312.66 L286.77 330.40 L286.90 316.36 L287.02 326.52 L287.14 313.27 L287.27 326.27 L287.39 312.33 L287.52 329.82 L287.64 313.57 L287.77 325.67 L287.89 317.75 L288.01 324.01 L288.14 313.09 L288.26 327.62 L288.39 311.71 L288.51 328.03 L288.64 320.77 L288.76 324.08 L288.88 319.83 L289.01 330.09 L289.13 316.27 L289.26 326.00 L289.38 312.20 L289.50 329.55 L289.63 319.42 L289.75 328.05 L289.88 312.18 L290.00 330.76 L290.13 320.93 L290.25 322.89 L290.37 314.00 L290.50 331.29 L290.62 320.85 L290.75 323.80 L290.87 313.93 L291.00 325.65 L291.12 314.62 L291.24 325.30 L291.37 322.24 L291.49 332.55 L291.62 320.67 L291.74 330.65 L291.87 313.71 L291.99 330.58 L292.11 312.19 L292.24 323.48 L292.36 317.78 L292.49 329.93 L292.61 311.90 L292.73 331.19 L292.86 322.63 L292.98 332.27 L293.11 320.52 L293.23 332.38 L293.36 319.59 L293.48 324.77 L293.60 317.25 L293.73 332.51 L293.85 321.08 L293.98 332.22 L294.10 315.94 L294.23 327.04 L294.35 318.05 L294.47 327.42 L294.60 316.27 L294.72 332.13 L294.85 317.03 L294.97 332.04 L295.09 315.06 L295.22 325.52 L295.34 321.56 L295.47 323.15 L295.59 315.10 L295.72 331.89 L295.84 314.55 L295.96 321.67 L296.09 321.83 L296.21 322.31 L296.34 310.97 L296.46 331.34 L296.59 315.48 L296.71 331.96 L296.83 309.94 L296.96 329.35 L297.08 313.86 L297.21 331.74 L297.33 314.69 L297.45 329.44 L297.58 310.97 L297.70 331.90 L297.83 316.42 L297.95 330.97 L298.08 312.18 L298.20 324.52 L298.32 317.74 L298.45 330.60 L298.57 313.95 L298.70 329.44 L298.82 315.63 L298.95 331.47 L299.07 309.44 L299.19 330.76 L299.32 316.00 L299.44 325.75 L299.57 320.85 L299.69 331.06 L299.82 319.55 L299.94 321.54 L300.06 319.20 L300.19 327.69 L300.31 318.89 L300.44 333.04 L300.56 322.52 L300.68 325.40 L300.81 316.91 L300.93 324.53 L301.06 320.14 L301.18 334.14 L301.31 314.91 L301.43 330.50 L301.55 313.53 L301.68 326.15 L301.80 322.38 L301.93 329.88 L302.05 313.64 L302.18 331.31 L302.30 313.21 L302.42 328.29 L302.55 312.91 L302.67 322.08 L302.80 320.47 L302.92 331.57 L303.04 312.70 L303.17 326.86 L303.29 314.03 L303.42 325.11 L303.54 318.15 L303.67 330.48 L303.79 318.78 L303.91 332.09 L304.04 318.49 L304.16 323.26 L304.29 313.81 L304.41 331.50 L304.54 317.06 L304.66 330.37 L304.78 315.11 L304.91 330.98 L305.03 315.83 L305.16 331.79 L305.28 313.67 L305.40 332.34 L305.53 316.86 L305.65 329.40 L305.78 318.65 L305.90 330.84 L306.03 312.96 L306.15 332.34 L306.27 312.21 L306.40 326.04 L306.52 314.21 L306.65 332.74 L306.77 317.36 L306.90 323.48 L307.02 311.49 L307.14 321.47 L307.27 311.76 L307.39 332.78 L307.52 319.38 L307.64 324.52 L307.77 321.44 L307.89 332.86 L308.01 319.61 L308.14 332.02 L308.26 317.17 L308.39 331.25 L308.51 309.41 L308.63 331.74 L308.76 316.82 L308.88 332.16 L309.01 323.07 L309.13 331.01 L309.26 312.65 L309.38 332.56 L309.50 312.84 L309.63 332.79 L309.75 320.77 L309.88 331.88 L310.00 321.25 L310.13 321.91 L310.25 313.93 L310.37 328.38 L310.50 320.64 L310.62 329.72 L310.75 316.51 L310.87 332.12 L310.99 315.34 L311.12 333.54 L311.24 318.34 L311.37 331.13 L311.49 320.38 L311.62 330.99 L311.74 313.76 L311.86 329.76 L311.99 316.43 L312.11 323.44 L312.24 312.39 L312.36 325.94 L312.49 311.67 L312.61 329.58 L312.73 309.15 L312.86 331.70 L312.98 315.66 L313.11 324.09 L313.23 315.69 L313.35 333.72 L313.48 316.76 L313.60 331.33 L313.73 322.18 L313.85 331.27 L313.98 311.48 L314.10 329.17 L314.22 312.40 L314.35 326.84 L314.47 320.41 L314.60 331.59 L314.72 313.00 L314.85 330.24 L314.97 315.23 L315.09 321.95 L315.22 318.99 L315.34 332.65 L315.47 312.03 L315.59 331.80 L315.72 317.55 L315.84 330.35 L315.96 313.56 L316.09 331.14 L316.21 322.94 L316.34 330.99 L316.46 319.22 L316.58 329.66 L316.71 318.89 L316.83 323.76 L316.96 312.90 L317.08 327.58 L317.21 311.78 L317.33 329.53 L317.45 311.54 L317.58 321.84 L317.70 310.44 L317.83 331.06 L317.95 312.79 L318.08 320.82 L318.20 311.97 L318.32 331.69 L318.45 319.89 L318.57 331.66 L318.70 312.92 L318.82 331.37 L318.94 311.76 L319.07 331.83 L319.19 314.58 L319.32 331.67 L319.44 318.04 L319.57 330.20 L319.69 312.70 L319.81 330.37 L319.94 313.84 L320.06 328.61 L320.19 320.46 L320.31 325.12 L320.44 312.44 L320.56 331.25 L320.68 315.51 L320.81 325.88 L320.93 317.98 L321.06 331.44 L321.18 320.06 L321.30 331.42 L321.43 319.83 L321.55 326.90 L321.68 315.04 L321.80 325.86 L321.93 313.09 L322.05 331.93 L322.17 317.61 L322.30 331.95 L322.42 312.09 L322.55 331.67 L322.67 314.47 L322.80 324.48 L322.92 313.34 L323.04 323.37 L323.17 318.87 L323.29 326.83 L323.42 315.00 L323.54 324.96 L323.66 314.73 L323.79 325.29 L323.91 313.56 L324.04 330.30 L324.16 311.76 L324.29 329.02 L324.41 312.41 L324.53 331.03 L324.66 314.01 L324.78 330.88 L324.91 307.97 L325.03 323.67 L325.16 316.20 L325.28 330.98 L325.40 312.40 L325.53 331.82 L325.65 315.19 L325.78 321.63 L325.90 312.97 L326.03 325.42 L326.15 315.06 L326.27 329.18 L326.40 320.94 L326.52 330.39 L326.65 314.94 L326.77 329.25 L326.89 314.25 L327.02 330.65 L327.14 313.87 L327.27 329.92 L327.39 313.53 L327.52 325.42 L327.64 317.29 L327.76 324.00 L327.89 313.92 L328.01 330.70 L328.14 312.82 L328.26 327.19 L328.39 313.35 L328.51 321.57 L328.63 315.03 L328.76 330.16 L328.88 314.49 L329.01 325.61 L329.13 319.69 L329.25 331.36 L329.38 320.93 L329.50 327.60 L329.63 312.35 L329.75 326.70 L329.88 318.66 L330.00 327.41 L330.12 312.87 L330.25 322.05 L330.37 312.17 L330.50 331.42 L330.62 321.56 L330.75 331.49 L330.87 313.07 L330.99 331.97 L331.12 313.29 L331.24 326.69 L331.37 319.63 L331.49 327.61 L331.61 313.29 L331.74 329.08 L331.86 310.86 L331.99 326.07 L332.11 320.56 L332.24 322.49 L332.36 314.63 L332.48 330.78 L332.61 318.19 L332.73 323.13 L332.86 316.46 L332.98 327.53 L333.11 316.70 L333.23 326.95 L333.35 314.21 L333.48 332.26 L333.60 318.45 L333.73 332.80 L333.85 315.55 L333.98 327.97 L334.10 314.88 L334.22 330.75 L334.35 312.62 L334.47 330.06 L334.60 314.35 L334.72 331.14 L334.84 315.62 L334.97 326.10 L335.09 322.07 L335.22 330.26 L335.34 313.32 L335.47 328.74 L335.59 319.45 L335.71 321.54 L335.84 312.95 L335.96 329.78 L336.09 312.09 L336.21 329.60 L336.34 314.12 L336.46 323.61 L336.58 314.37 L336.71 323.99 L336.83 313.95 L336.96 328.66 L337.08 317.65 L337.20 322.39 L337.33 320.47 L337.45 330.41 L337.58 315.07 L337.70 327.29 L337.83 313.57 L337.95 331.18 L338.07 312.93 L338.20 323.02 L338.32 317.64 L338.45 331.56 L338.57 315.15 L338.70 331.10 L338.82 312.72 L338.94 330.89 L339.07 318.83 L339.19 328.95 L339.32 321.20 L339.44 324.38 L339.56 311.74 L339.69 333.11 L339.81 314.91 L339.94 329.06 L340.06 312.89 L340.19 332.74 L340.31 315.53 L340.43 332.27 L340.56 315.26 L340.68 332.88 L340.81 317.31 L340.93 332.53 L341.06 318.05 L341.18 325.86 L341.30 315.74 L341.43 331.53 L341.55 316.66 L341.68 325.26 L341.80 311.69 L341.93 325.40 L342.05 315.22 L342.17 328.88 L342.30 316.44 L342.42 329.94 L342.55 317.14 L342.67 321.79 L342.79 318.48 L342.92 328.35 L343.04 323.24 L343.17 330.29 L343.29 317.80 L343.42 327.41 L343.54 320.07 L343.66 330.30 L343.79 315.16 L343.91 328.92 L344.04 313.39 L344.16 329.69 L344.29 313.01 L344.41 330.01 L344.53 313.18 L344.66 328.22 L344.78 314.47 L344.91 332.06 L345.03 322.55 L345.15 332.29 L345.28 320.07 L345.40 330.87 L345.53 317.23 L345.65 329.51 L345.78 314.12 L345.90 327.08 L346.02 315.99 L346.15 331.82 L346.27 323.81 L346.40 330.38 L346.52 321.61 L346.65 331.54 L346.77 322.82 L346.89 328.53 L347.02 323.60 L347.14 330.72 L347.27 315.37 L347.39 332.18 L347.51 315.96 L347.64 333.23 L347.76 318.36 L347.89 333.59 L348.01 322.86 L348.14 333.42 L348.26 315.55 L348.38 326.20 L348.51 315.05 L348.63 333.47 L348.76 321.55 L348.88 329.58 L349.01 313.54 L349.13 333.18 L349.25 318.22 L349.38 329.68 L349.50 316.05 L349.63 322.62 L349.75 312.92 L349.88 329.74 L350.00 314.45 L350.12 331.35 L350.25 317.32 L350.37 332.73 L350.50 315.67 L350.62 324.99 L350.74 323.31 L350.87 331.89 L350.99 315.39 L351.12 332.84 L351.24 318.18 L351.37 328.13 L351.49 320.69 L351.61 325.94 L351.74 321.21 L351.86 326.26 L351.99 320.37 L352.11 331.57 L352.24 316.25 L352.36 327.66 L352.48 315.78 L352.61 333.67 L352.73 318.42 L352.86 331.04 L352.98 323.08 L353.10 324.33 L353.23 316.96 L353.35 323.82 L353.48 315.82 L353.60 329.75 L353.73 324.37 L353.85 326.05 L353.97 315.86 L354.10 333.49 L354.22 317.04 L354.35 330.22 L354.47 319.25 L354.60 332.85 L354.72 315.90 L354.84 326.85 L354.97 318.30 L355.09 328.71 L355.22 316.14 L355.34 334.52 L355.46 320.65 L355.59 332.49 L355.71 317.21 L355.84 336.28 L355.96 317.03 L356.09 325.98 L356.21 317.28 L356.33 333.62 L356.46 317.19 L356.58 326.09 L356.71 318.12 L356.83 333.37 L356.96 317.62 L357.08 332.88 L357.20 315.85 L357.33 333.08 L357.45 315.35 L357.58 327.98 L357.70 318.17 L357.83 323.81 L357.95 317.93 L358.07 332.63 L358.20 320.41 L358.32 333.27 L358.45 317.29 L358.57 326.79 L358.69 315.11 L358.82 329.03 L358.94 317.65 L359.07 336.81 L359.19 315.64 L359.32 333.33 L359.44 316.90 L359.56 331.65 L359.69 314.19 L359.81 334.12 L359.94 315.36 L360.06 333.65 L360.19 323.35 L360.31 334.04 L360.43 314.12 L360.56 333.53 L360.68 324.37 L360.81 334.63 L360.93 316.57 L361.05 333.40 L361.18 319.36 L361.30 326.09 L361.43 314.49 L361.55 327.70 L361.68 317.29 L361.80 326.96 L361.92 313.03 L362.05 327.34 L362.17 319.79 L362.30 328.32 L362.42 309.45 L362.55 332.73 L362.67 313.95 L362.79 330.92 L362.92 319.19 L363.04 324.29 L363.17 323.28 L363.29 332.62 L363.41 314.72 L363.54 331.77 L363.66 317.83 L363.79 324.90 L363.91 313.75 L364.04 333.03 L364.16 318.65 L364.28 331.68 L364.41 317.75 L364.53 332.83 L364.66 322.45 L364.78 332.89 L364.91 316.28 L365.03 330.83 L365.15 321.98 L365.28 332.06 L365.40 315.93 L365.53 332.34 L365.65 319.74 L365.78 330.87 L365.90 314.14 L366.02 329.38 L366.15 313.89 L366.27 332.02 L366.40 316.36 L366.52 324.31 L366.64 314.62 L366.77 332.35 L366.89 313.78 L367.02 323.99 L367.14 317.43 L367.27 323.34 L367.39 315.81 L367.51 324.88 L367.64 317.70 L367.76 331.56 L367.89 319.04 L368.01 333.19 L368.14 315.71 L368.26 331.17 L368.38 316.14 L368.51 325.44 L368.63 315.29 L368.76 324.67 L368.88 314.79 L369.00 330.16 L369.13 320.78 L369.25 332.69 L369.38 319.78 L369.50 330.15 L369.63 314.29 L369.75 332.87 L369.87 314.68 L370.00 329.10 L370.12 319.53 L370.25 325.12 L370.37 319.19 L370.50 324.46 L370.62 316.29 L370.74 330.64 L370.87 316.12 L370.99 331.11 L371.12 316.02 L371.24 332.28 L371.36 318.43 L371.49 328.89 L371.61 316.58 L371.74 323.99 L371.86 314.27 L371.99 327.59 L372.11 317.06 L372.23 331.12 L372.36 322.22 L372.48 330.53 L372.61 316.62 L372.73 331.90 L372.86 321.39 L372.98 332.19 L373.10 314.07 L373.23 330.56 L373.35 313.45 L373.48 322.02 L373.60 312.33 L373.73 332.14 L373.85 312.90 L373.97 331.73 L374.10 315.26 L374.22 327.65 L374.35 313.10 L374.47 331.69 L374.59 316.55 L374.72 331.60 L374.84 313.07 L374.97 326.45 L375.09 313.06 L375.22 330.81 L375.34 312.40 L375.46 330.56 L375.59 312.96 L375.71 333.57 L375.84 312.19 L375.96 324.56 L376.09 319.32 L376.21 332.00 L376.33 311.51 L376.46 330.26 L376.58 323.18 L376.71 330.11 L376.83 315.45 L376.95 323.51 L377.08 315.33 L377.20 329.93 L377.33 313.11 L377.45 332.05 L377.58 315.01 L377.70 331.34" fill="none" stroke="#0000FF" stroke-width="1.1" stroke-linejoin="round"/>
<path d="M64.5 16.9 V349.1 H392.4" fill="none" stroke="#000" stroke-width="1.3"/>
<path d="M61 346.50 H64.5" stroke="#1a1a1a" stroke-width="1.3"/>
<text transform="translate(57.6 352.00) scale(0.967 1)" text-anchor="end" class="tk">0.0</text>
<path d="M61 300.86 H64.5" stroke="#1a1a1a" stroke-width="1.3"/>
<text transform="translate(57.6 306.36) scale(0.967 1)" text-anchor="end" class="tk">0.1</text>
<path d="M61 255.22 H64.5" stroke="#1a1a1a" stroke-width="1.3"/>
<text transform="translate(57.6 260.72) scale(0.967 1)" text-anchor="end" class="tk">0.2</text>
<path d="M61 209.58 H64.5" stroke="#1a1a1a" stroke-width="1.3"/>
<text transform="translate(57.6 215.08) scale(0.967 1)" text-anchor="end" class="tk">0.3</text>
<path d="M61 163.94 H64.5" stroke="#1a1a1a" stroke-width="1.3"/>
<text transform="translate(57.6 169.44) scale(0.967 1)" text-anchor="end" class="tk">0.4</text>
<path d="M61 118.30 H64.5" stroke="#1a1a1a" stroke-width="1.3"/>
<text transform="translate(57.6 123.80) scale(0.967 1)" text-anchor="end" class="tk">0.5</text>
<path d="M61 72.66 H64.5" stroke="#1a1a1a" stroke-width="1.3"/>
<text transform="translate(57.6 78.16) scale(0.967 1)" text-anchor="end" class="tk">0.6</text>
<path d="M61 27.02 H64.5" stroke="#1a1a1a" stroke-width="1.3"/>
<text transform="translate(57.6 32.52) scale(0.967 1)" text-anchor="end" class="tk">0.7</text>
<path d="M79.60 349 V352.8" stroke="#1a1a1a" stroke-width="1.3"/>
<text transform="translate(79.60 367.0) scale(0.967 1)" text-anchor="middle" class="tk">0</text>
<path d="M129.26 349 V352.8" stroke="#1a1a1a" stroke-width="1.3"/>
<text transform="translate(129.26 367.0) scale(0.967 1)" text-anchor="middle" class="tk">50</text>
<path d="M178.93 349 V352.8" stroke="#1a1a1a" stroke-width="1.3"/>
<text transform="translate(178.93 367.0) scale(0.967 1)" text-anchor="middle" class="tk">100</text>
<path d="M228.59 349 V352.8" stroke="#1a1a1a" stroke-width="1.3"/>
<text transform="translate(228.59 367.0) scale(0.967 1)" text-anchor="middle" class="tk">150</text>
<path d="M278.26 349 V352.8" stroke="#1a1a1a" stroke-width="1.3"/>
<text transform="translate(278.26 367.0) scale(0.967 1)" text-anchor="middle" class="tk">200</text>
<path d="M327.92 349 V352.8" stroke="#1a1a1a" stroke-width="1.3"/>
<text transform="translate(327.92 367.0) scale(0.967 1)" text-anchor="middle" class="tk">250</text>
<path d="M377.59 349 V352.8" stroke="#1a1a1a" stroke-width="1.3"/>
<text transform="translate(377.59 367.0) scale(0.967 1)" text-anchor="middle" class="tk">300</text>
<path d="M497.0 16.9 V349.15 H777.2" fill="none" stroke="#000" stroke-width="1.3"/>
<path d="M493.2 302.42 H497.0" stroke="#1a1a1a" stroke-width="1.3"/>
<text transform="translate(489.6 307.92) scale(0.967 1)" text-anchor="end" class="tk">-100</text>
<path d="M493.2 249.20 H497.0" stroke="#1a1a1a" stroke-width="1.3"/>
<text transform="translate(489.6 254.70) scale(0.967 1)" text-anchor="end" class="tk">0</text>
<path d="M493.2 195.98 H497.0" stroke="#1a1a1a" stroke-width="1.3"/>
<text transform="translate(489.6 201.48) scale(0.967 1)" text-anchor="end" class="tk">100</text>
<path d="M493.2 142.76 H497.0" stroke="#1a1a1a" stroke-width="1.3"/>
<text transform="translate(489.6 148.26) scale(0.967 1)" text-anchor="end" class="tk">200</text>
<path d="M493.2 89.54 H497.0" stroke="#1a1a1a" stroke-width="1.3"/>
<text transform="translate(489.6 95.04) scale(0.967 1)" text-anchor="end" class="tk">300</text>
<path d="M493.2 36.32 H497.0" stroke="#1a1a1a" stroke-width="1.3"/>
<text transform="translate(489.6 41.82) scale(0.967 1)" text-anchor="end" class="tk">400</text>
<path d="M524.10 349 V352.8" stroke="#1a1a1a" stroke-width="1.3"/>
<text transform="translate(524.10 367.0) scale(0.967 1)" text-anchor="middle" class="tk">-200</text>
<path d="M577.30 349 V352.8" stroke="#1a1a1a" stroke-width="1.3"/>
<text transform="translate(577.30 367.0) scale(0.967 1)" text-anchor="middle" class="tk">-100</text>
<path d="M630.50 349 V352.8" stroke="#1a1a1a" stroke-width="1.3"/>
<text transform="translate(630.50 367.0) scale(0.967 1)" text-anchor="middle" class="tk">0</text>
<path d="M683.70 349 V352.8" stroke="#1a1a1a" stroke-width="1.3"/>
<text transform="translate(683.70 367.0) scale(0.967 1)" text-anchor="middle" class="tk">100</text>
<path d="M736.90 349 V352.8" stroke="#1a1a1a" stroke-width="1.3"/>
<text transform="translate(736.90 367.0) scale(0.967 1)" text-anchor="middle" class="tk">200</text>
<text x="228.3" y="386" text-anchor="middle" class="ti">Distance (kb)</text>
<text transform="translate(32.0 189.0) rotate(-90)" class="ti">r<tspan dy="-8.6" font-size="11.6px">2</tspan></text>
<text x="637.3" y="386" text-anchor="middle" class="ti">PC1 (8.06%)</text>
<text transform="translate(456.6 183.4) rotate(-90)" text-anchor="middle" class="ti">PC2 (4.62%)</text>
<rect x="527.05" y="28.15" width="7.1" height="7.1" fill="#53CDAC" fill-opacity="0.90"/>
<rect x="532.65" y="284.05" width="7.1" height="7.1" fill="#FF8151" fill-opacity="0.90"/>
<rect x="529.75" y="288.05" width="7.1" height="7.1" fill="#FF8151" fill-opacity="0.90"/>
<rect x="554.05" y="290.75" width="7.1" height="7.1" fill="#FF8151" fill-opacity="0.90"/>
<rect x="529.75" y="296.35" width="7.1" height="7.1" fill="#FF8151" fill-opacity="0.90"/>
<rect x="512.05" y="319.95" width="7.1" height="7.1" fill="#FF8151" fill-opacity="0.90"/>
<rect x="515.85" y="320.45" width="7.1" height="7.1" fill="#FF8151" fill-opacity="0.90"/>
<rect x="505.85" y="329.85" width="7.1" height="7.1" fill="#FF8151" fill-opacity="0.90"/>
<path d="M609.10 226.92 L613.30 234.82 L604.90 234.82 Z" fill="#F0CF8E" fill-opacity="0.90"/>
<circle cx="533.10" cy="45.80" r="3.55" fill="#7F95D1" fill-opacity="0.90"/>
<circle cx="593.30" cy="206.30" r="3.55" fill="#7F95D1" fill-opacity="0.90"/>
<circle cx="609.50" cy="223.40" r="3.55" fill="#7F95D1" fill-opacity="0.90"/>
<circle cx="619.00" cy="225.90" r="3.55" fill="#7F95D1" fill-opacity="0.90"/>
<circle cx="623.50" cy="228.00" r="3.55" fill="#7F95D1" fill-opacity="0.90"/>
<circle cx="574.90" cy="231.30" r="3.55" fill="#7F95D1" fill-opacity="0.90"/>
<circle cx="613.00" cy="235.20" r="3.55" fill="#7F95D1" fill-opacity="0.90"/>
<circle cx="607.80" cy="237.20" r="3.55" fill="#7F95D1" fill-opacity="0.90"/>
<circle cx="594.00" cy="241.40" r="3.55" fill="#7F95D1" fill-opacity="0.90"/>
<circle cx="558.30" cy="242.40" r="3.55" fill="#7F95D1" fill-opacity="0.90"/>
<circle cx="612.70" cy="258.50" r="3.55" fill="#7F95D1" fill-opacity="0.90"/>
<circle cx="546.80" cy="263.00" r="3.55" fill="#7F95D1" fill-opacity="0.90"/>
<circle cx="590.90" cy="272.90" r="3.55" fill="#7F95D1" fill-opacity="0.90"/>
<circle cx="537.60" cy="301.10" r="3.55" fill="#7F95D1" fill-opacity="0.90"/>
<circle cx="532.60" cy="314.20" r="3.55" fill="#7F95D1" fill-opacity="0.90"/>
<circle cx="513.30" cy="334.10" r="3.55" fill="#7F95D1" fill-opacity="0.90"/>
<circle cx="659.70" cy="225.30" r="3.55" fill="#7F95D1" fill-opacity="0.90"/>
<circle cx="644.10" cy="226.00" r="3.55" fill="#7F95D1" fill-opacity="0.90"/>
<circle cx="671.80" cy="235.30" r="3.55" fill="#7F95D1" fill-opacity="0.90"/>
<circle cx="686.30" cy="233.80" r="3.55" fill="#7F95D1" fill-opacity="0.90"/>
<circle cx="696.50" cy="240.30" r="3.55" fill="#7F95D1" fill-opacity="0.90"/>
<circle cx="708.30" cy="241.30" r="3.55" fill="#7F95D1" fill-opacity="0.90"/>
<circle cx="704.40" cy="250.70" r="3.55" fill="#7F95D1" fill-opacity="0.90"/>
<circle cx="711.20" cy="254.40" r="3.55" fill="#7F95D1" fill-opacity="0.90"/>
<circle cx="721.40" cy="255.00" r="3.55" fill="#7F95D1" fill-opacity="0.90"/>
<circle cx="729.30" cy="266.50" r="3.55" fill="#7F95D1" fill-opacity="0.90"/>
<circle cx="748.90" cy="268.30" r="3.55" fill="#7F95D1" fill-opacity="0.90"/>
<circle cx="711.00" cy="285.80" r="3.55" fill="#7F95D1" fill-opacity="0.90"/>
<path d="M687.10 228.02 L691.30 235.92 L682.90 235.92 Z" fill="#F0CF8E" fill-opacity="0.90"/>
<path d="M712.70 242.02 L716.90 249.92 L708.50 249.92 Z" fill="#F0CF8E" fill-opacity="0.90"/>
<path d="M761.00 264.82 L765.20 272.72 L756.80 272.72 Z" fill="#F0CF8E" fill-opacity="0.90"/>
<path d="M735.90 297.62 L740.10 305.52 L731.70 305.52 Z" fill="#F0CF8E" fill-opacity="0.90"/>
<circle cx="547.90" cy="142.00" r="3.55" fill="#F181C6" fill-opacity="0.90"/>
<circle cx="610.40" cy="200.30" r="3.55" fill="#9CD441" fill-opacity="0.90"/>
<circle cx="606.80" cy="210.80" r="3.55" fill="#FFD618" fill-opacity="0.90"/>
<circle cx="579.90" cy="270.90" r="3.55" fill="#FFD618" fill-opacity="0.90"/>
<circle cx="659.70" cy="218.50" r="3.55" fill="#FFD618" fill-opacity="0.90"/>
<circle cx="647.70" cy="234.70" r="3.55" fill="#9CD441" fill-opacity="0.90"/>
<circle cx="653.90" cy="236.10" r="3.55" fill="#FFD618" fill-opacity="0.90"/>
<circle cx="653.00" cy="242.60" r="3.55" fill="#FFD618" fill-opacity="0.90"/>
<circle cx="670.10" cy="240.70" r="3.55" fill="#FFD618" fill-opacity="0.90"/>
<circle cx="676.50" cy="242.20" r="3.55" fill="#FFD618" fill-opacity="0.90"/>
<circle cx="687.10" cy="238.40" r="3.55" fill="#FFD618" fill-opacity="0.90"/>
<circle cx="702.90" cy="244.20" r="3.55" fill="#FFD618" fill-opacity="0.90"/>
<circle cx="720.00" cy="247.00" r="3.55" fill="#FFD618" fill-opacity="0.90"/>
<circle cx="649.20" cy="266.20" r="3.55" fill="#FFD618" fill-opacity="0.90"/>
<circle cx="706.70" cy="266.20" r="3.55" fill="#FFD618" fill-opacity="0.90"/>
<circle cx="708.30" cy="267.90" r="3.55" fill="#FFD618" fill-opacity="0.90"/>
<circle cx="764.60" cy="271.20" r="3.55" fill="#FFD618" fill-opacity="0.90"/>
<circle cx="643.50" cy="318.20" r="3.55" fill="#FFD618" fill-opacity="0.90"/>
<text x="679.3" y="33.7" class="ti">Country</text>
<rect x="687.95" y="52.45" width="7.1" height="7.1" fill="#53CDAC" fill-opacity="0.90"/>
<text x="712.3" y="60.60" class="lg">Control</text>
<rect x="687.95" y="76.85" width="7.1" height="7.1" fill="#FF8151" fill-opacity="0.90"/>
<text x="712.3" y="85.10" class="lg">Cultivar</text>
<circle cx="691.50" cy="104.80" r="3.55" fill="#7F95D1" fill-opacity="0.90"/>
<text x="712.3" y="109.60" class="lg">Bolivia</text>
<circle cx="691.50" cy="129.20" r="3.55" fill="#F181C6" fill-opacity="0.90"/>
<text x="712.3" y="134.10" class="lg">Chile</text>
<circle cx="691.50" cy="153.60" r="3.55" fill="#9CD441" fill-opacity="0.90"/>
<text x="712.3" y="158.60" class="lg">Ecuador</text>
<circle cx="691.50" cy="178.00" r="3.55" fill="#FFD618" fill-opacity="0.90"/>
<text x="712.3" y="183.10" class="lg">Peru</text>
<path d="M691.70 196.92 L695.90 204.82 L687.50 204.82 Z" fill="#F0CF8E" fill-opacity="0.90"/>
<text x="712.3" y="207.90" class="lg">No data</text>
</svg>
</body></html>
